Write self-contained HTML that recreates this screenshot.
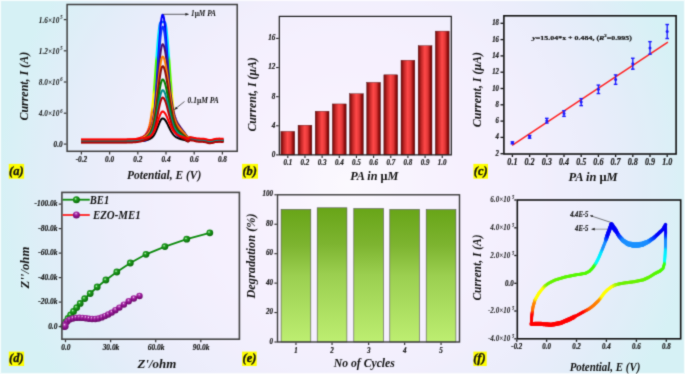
<!DOCTYPE html><html><head><meta charset="utf-8"><style>html,body{margin:0;padding:0;width:685px;height:374px;overflow:hidden;background:#eef;}svg{display:block;font-family:"Liberation Serif",serif;will-change:transform;}</style></head><body><svg width="685" height="374" viewBox="0 0 685 374" font-family="Liberation Serif" font-weight="bold" font-style="italic">
<defs>
<radialGradient id="bg" gradientUnits="userSpaceOnUse" cx="348" cy="184" r="349"><stop offset="0.000" stop-color="rgb(251, 249, 254)"/><stop offset="0.025" stop-color="rgb(251, 248, 254)"/><stop offset="0.050" stop-color="rgb(250, 247, 254)"/><stop offset="0.075" stop-color="rgb(250, 247, 254)"/><stop offset="0.100" stop-color="rgb(249, 246, 254)"/><stop offset="0.125" stop-color="rgb(249, 245, 254)"/><stop offset="0.150" stop-color="rgb(248, 244, 254)"/><stop offset="0.175" stop-color="rgb(248, 244, 254)"/><stop offset="0.200" stop-color="rgb(248, 243, 254)"/><stop offset="0.225" stop-color="rgb(247, 242, 254)"/><stop offset="0.250" stop-color="rgb(247, 242, 254)"/><stop offset="0.275" stop-color="rgb(247, 241, 254)"/><stop offset="0.300" stop-color="rgb(246, 241, 254)"/><stop offset="0.325" stop-color="rgb(246, 240, 254)"/><stop offset="0.350" stop-color="rgb(246, 240, 254)"/><stop offset="0.375" stop-color="rgb(246, 240, 254)"/><stop offset="0.400" stop-color="rgb(245, 240, 254)"/><stop offset="0.425" stop-color="rgb(245, 240, 254)"/><stop offset="0.450" stop-color="rgb(244, 240, 254)"/><stop offset="0.475" stop-color="rgb(244, 239, 253)"/><stop offset="0.500" stop-color="rgb(243, 239, 253)"/><stop offset="0.525" stop-color="rgb(242, 239, 253)"/><stop offset="0.550" stop-color="rgb(241, 239, 253)"/><stop offset="0.575" stop-color="rgb(241, 238, 252)"/><stop offset="0.600" stop-color="rgb(239, 238, 252)"/><stop offset="0.625" stop-color="rgb(238, 238, 252)"/><stop offset="0.650" stop-color="rgb(237, 238, 252)"/><stop offset="0.675" stop-color="rgb(236, 237, 251)"/><stop offset="0.700" stop-color="rgb(235, 237, 251)"/><stop offset="0.725" stop-color="rgb(233, 237, 250)"/><stop offset="0.750" stop-color="rgb(232, 237, 250)"/><stop offset="0.775" stop-color="rgb(230, 237, 250)"/><stop offset="0.800" stop-color="rgb(229, 237, 249)"/><stop offset="0.825" stop-color="rgb(227, 237, 249)"/><stop offset="0.850" stop-color="rgb(225, 237, 248)"/><stop offset="0.875" stop-color="rgb(224, 238, 248)"/><stop offset="0.900" stop-color="rgb(222, 238, 247)"/><stop offset="0.925" stop-color="rgb(220, 239, 247)"/><stop offset="0.950" stop-color="rgb(218, 240, 246)"/><stop offset="0.975" stop-color="rgb(216, 240, 246)"/><stop offset="1.000" stop-color="rgb(214, 241, 245)"/></radialGradient>
<linearGradient id="redbar" x1="0" y1="0" x2="1" y2="0">
<stop offset="0" stop-color="#6a0c0c"/>
<stop offset="0.08" stop-color="#8c1212"/>
<stop offset="0.25" stop-color="#c82a2a"/>
<stop offset="0.48" stop-color="#ff4848"/>
<stop offset="0.7" stop-color="#e03636"/>
<stop offset="0.9" stop-color="#8a0a0a"/>
<stop offset="1" stop-color="#6a0808"/>
</linearGradient>
<linearGradient id="greenbar" x1="0" y1="0" x2="0" y2="1">
<stop offset="0" stop-color="rgb(104,165,24)"/>
<stop offset="0.27" stop-color="rgb(125,180,48)"/>
<stop offset="0.5" stop-color="rgb(155,207,80)"/>
<stop offset="1" stop-color="rgb(189,238,113)"/>
</linearGradient>
<radialGradient id="gball" cx="0.38" cy="0.38" r="0.65">
<stop offset="0" stop-color="#d8f8d8"/>
<stop offset="0.28" stop-color="#20a020"/>
<stop offset="1" stop-color="#066606"/>
</radialGradient>
<radialGradient id="pball" cx="0.45" cy="0.3" r="0.7">
<stop offset="0" stop-color="#f8e0f8"/>
<stop offset="0.22" stop-color="#b040b0"/>
<stop offset="0.5" stop-color="#941494"/>
<stop offset="1" stop-color="#640a64"/>
</radialGradient>
<marker id="arr" viewBox="0 0 10 10" refX="9" refY="5" markerWidth="5" markerHeight="5" orient="auto-start-reverse">
<path d="M0,1 L10,5 L0,9 z" fill="#222"/>
</marker>
<filter id="soft" x="0" y="0" width="685" height="374" filterUnits="userSpaceOnUse" color-interpolation-filters="sRGB"><feConvolveMatrix order="3" kernelMatrix="0.025 0.1 0.025 0.1 0.5 0.1 0.025 0.1 0.025" edgeMode="duplicate" preserveAlpha="true"/></filter>
</defs>
<g filter="url(#soft)">
<rect x="0" y="0" width="685" height="374" fill="url(#bg)"/>
<rect x="0.5" y="0.5" width="684" height="373" fill="none" stroke="rgba(255,255,255,0.75)" stroke-width="1.2"/>
<linearGradient id="rainbow" gradientUnits="userSpaceOnUse" x1="0" y1="14" x2="0" y2="140"><stop offset="0" stop-color="#0000ff"/><stop offset="0.06" stop-color="#0060ff"/><stop offset="0.14" stop-color="#00e0ff"/><stop offset="0.33" stop-color="#00ffff"/><stop offset="0.37" stop-color="#40ff00"/><stop offset="0.6" stop-color="#80ff00"/><stop offset="0.64" stop-color="#ffff00"/><stop offset="0.74" stop-color="#ffff00"/><stop offset="0.78" stop-color="#ff9000"/><stop offset="0.88" stop-color="#ff6000"/><stop offset="0.94" stop-color="#ff1000"/><stop offset="1" stop-color="#ff0000"/></linearGradient>
<polyline points="81.0,140.00 81.5,140.00 82.0,140.00 82.5,140.00 83.0,140.00 83.5,140.00 84.0,140.00 84.5,140.00 85.0,140.00 85.5,140.00 86.0,140.00 86.5,140.00 87.0,140.00 87.5,140.00 88.0,140.00 88.5,140.00 89.0,140.00 89.5,140.00 90.0,140.00 90.5,140.00 91.0,140.00 91.5,140.00 92.0,140.00 92.5,140.00 93.0,140.00 93.5,140.00 94.0,140.00 94.5,140.00 95.0,140.00 95.5,140.00 96.0,140.00 96.5,140.00 97.0,140.00 97.5,140.00 98.0,140.00 98.5,140.00 99.0,140.00 99.5,140.00 100.0,140.00 100.5,140.00 101.0,140.00 101.5,140.00 102.0,140.00 102.5,140.00 103.0,140.00 103.5,140.00 104.0,140.00 104.5,140.00 105.0,140.00 105.5,140.00 106.0,140.00 106.5,140.00 107.0,140.00 107.5,140.00 108.0,140.00 108.5,140.00 109.0,140.00 109.5,140.00 110.0,140.00 110.5,140.00 111.0,140.00 111.5,140.00 112.0,140.00 112.5,140.00 113.0,140.00 113.5,140.00 114.0,140.00 114.5,140.00 115.0,140.00 115.5,140.00 116.0,140.00 116.5,140.00 117.0,140.00 117.5,140.00 118.0,139.99 118.5,139.99 119.0,139.99 119.5,139.99 120.0,139.99 120.5,139.99 121.0,139.98 121.5,139.98 122.0,139.98 122.5,139.97 123.0,139.97 123.5,139.96 124.0,139.96 124.5,139.95 125.0,139.94 125.5,139.93 126.0,139.92 126.5,139.91 127.0,139.90 127.5,139.88 128.0,139.87 128.5,139.85 129.0,139.82 129.5,139.80 130.0,139.77 130.5,139.74 131.0,139.71 131.5,139.67 132.0,139.63 132.5,139.58 133.0,139.53 133.5,139.47 134.0,139.41 134.5,139.34 135.0,139.26 135.5,139.18 136.0,139.09 136.5,138.99 137.0,138.89 137.5,138.77 138.0,138.65 138.5,138.51 139.0,138.37 139.5,138.21 140.0,138.05 140.5,137.87 141.0,137.67 141.5,137.47 142.0,137.24 142.5,137.00 143.0,136.73 143.5,136.43 144.0,136.10 144.5,135.72 145.0,135.30 145.5,134.81 146.0,134.24 146.5,133.58 147.0,132.79 147.5,131.86 148.0,130.75 148.5,129.43 149.0,127.86 149.5,126.01 150.0,123.83 150.5,121.29 151.0,118.33 151.5,114.94 152.0,111.09 152.5,106.75 153.0,101.93 153.5,96.64 154.0,90.90 154.5,84.78 155.0,78.34 155.5,71.68 156.0,64.90 156.5,58.14 157.0,51.55 157.5,45.27 158.0,39.46 158.5,34.28 159.0,29.87 159.5,26.34 160.0,23.82 160.5,22.36 161.0,22.00 161.5,22.00 162.0,22.00 162.5,22.00 163.0,22.00 163.5,22.00 164.0,22.00 164.5,22.00 165.0,22.54 165.5,24.15 166.0,26.78 166.5,30.36 167.0,34.78 167.5,39.92 168.0,45.65 168.5,51.83 169.0,58.30 169.5,64.93 170.0,71.57 170.5,78.11 171.0,84.43 171.5,90.46 172.0,96.12 172.5,101.35 173.0,106.14 173.5,110.46 174.0,114.31 174.5,117.72 175.0,120.70 175.5,123.28 176.0,125.50 176.5,127.39 177.0,129.00 177.5,130.36 178.0,131.51 178.5,132.48 179.0,133.30 179.5,134.00 180.0,134.59 180.5,135.10 181.0,135.54 181.5,135.93 182.0,136.27 182.5,136.58 183.0,136.86 183.5,137.11 184.0,137.34 184.5,137.56 185.0,137.75 185.5,138.07 186.0,138.37 186.5,138.67 187.0,138.95 187.5,139.22 188.0,139.48 188.5,139.16 189.0,138.83 189.5,138.49 190.0,138.15 190.5,138.18 191.0,138.21 191.5,138.23 192.0,138.24 192.5,138.25 193.0,138.25 193.5,138.38 194.0,138.51 194.5,138.63 195.0,138.75 195.5,138.86 196.0,138.97 196.5,139.08 197.0,139.18 197.5,139.20 198.0,139.22 198.5,139.24 199.0,139.26 199.5,139.27 200.0,139.28 200.5,139.29 201.0,139.30 201.5,139.31 202.0,139.32 202.5,139.32 203.0,139.33 203.5,139.41 204.0,139.50 204.5,139.58 205.0,139.66 205.5,139.75 206.0,139.83 206.5,139.96 207.0,140.10 207.5,140.23 208.0,140.37 208.5,140.50 209.0,140.64 209.5,140.61 210.0,140.58 210.5,140.56 211.0,140.53 211.5,140.50 212.0,140.48 212.5,140.32 213.0,140.16 213.5,140.00 214.0,139.84 214.5,139.68 215.0,139.52 215.5,139.48 216.0,139.44 216.5,139.40 217.0,139.36 217.5,139.32 218.0,139.28 218.5,139.24 219.0,139.20 219.5,139.22 220.0,139.24 220.5,139.25 221.0,139.27 221.5,139.29 222.0,139.31 222.5,139.32 223.0,139.34 223.5,139.36" fill="none" stroke="url(#rainbow)" stroke-width="2.4" stroke-linejoin="round"/>
<polyline points="81.0,140.60 81.5,140.60 82.0,140.60 82.5,140.60 83.0,140.60 83.5,140.60 84.0,140.60 84.5,140.60 85.0,140.60 85.5,140.60 86.0,140.60 86.5,140.60 87.0,140.60 87.5,140.60 88.0,140.60 88.5,140.60 89.0,140.60 89.5,140.60 90.0,140.60 90.5,140.60 91.0,140.60 91.5,140.60 92.0,140.60 92.5,140.60 93.0,140.60 93.5,140.60 94.0,140.60 94.5,140.60 95.0,140.60 95.5,140.60 96.0,140.60 96.5,140.60 97.0,140.60 97.5,140.60 98.0,140.60 98.5,140.60 99.0,140.60 99.5,140.60 100.0,140.60 100.5,140.60 101.0,140.60 101.5,140.60 102.0,140.60 102.5,140.60 103.0,140.60 103.5,140.60 104.0,140.60 104.5,140.60 105.0,140.60 105.5,140.60 106.0,140.60 106.5,140.60 107.0,140.60 107.5,140.60 108.0,140.60 108.5,140.60 109.0,140.60 109.5,140.60 110.0,140.60 110.5,140.60 111.0,140.60 111.5,140.60 112.0,140.60 112.5,140.60 113.0,140.60 113.5,140.60 114.0,140.60 114.5,140.60 115.0,140.60 115.5,140.60 116.0,140.60 116.5,140.60 117.0,140.60 117.5,140.60 118.0,140.60 118.5,140.60 119.0,140.60 119.5,140.60 120.0,140.60 120.5,140.60 121.0,140.60 121.5,140.60 122.0,140.60 122.5,140.60 123.0,140.60 123.5,140.60 124.0,140.60 124.5,140.60 125.0,140.60 125.5,140.60 126.0,140.60 126.5,140.60 127.0,140.60 127.5,140.60 128.0,140.60 128.5,140.60 129.0,140.60 129.5,140.60 130.0,140.60 130.5,140.60 131.0,140.60 131.5,140.60 132.0,140.60 132.5,140.60 133.0,140.60 133.5,140.60 134.0,140.60 134.5,140.60 135.0,140.60 135.5,140.60 136.0,140.60 136.5,140.60 137.0,140.60 137.5,140.60 138.0,140.60 138.5,140.60 139.0,140.60 139.5,140.60 140.0,140.60 140.5,140.60 141.0,140.59 141.5,140.59 142.0,140.58 142.5,140.57 143.0,140.56 143.5,140.54 144.0,140.51 144.5,140.47 145.0,140.42 145.5,140.33 146.0,140.22 146.5,140.07 147.0,139.86 147.5,139.58 148.0,139.20 148.5,138.71 149.0,138.07 149.5,137.26 150.0,136.22 150.5,134.93 151.0,133.32 151.5,131.36 152.0,129.00 152.5,126.18 153.0,122.86 153.5,119.00 154.0,114.57 154.5,109.56 155.0,103.97 155.5,97.83 156.0,91.16 156.5,84.06 157.0,76.60 157.5,68.91 158.0,61.12 158.5,53.40 159.0,45.92 159.5,38.87 160.0,32.42 160.5,26.76 161.0,22.04 161.5,18.40 162.0,15.95 162.5,14.76 163.0,14.86 163.5,16.14 164.0,18.56 164.5,22.06 165.0,26.52 165.5,31.84 166.0,37.88 166.5,44.47 167.0,51.46 167.5,58.70 168.0,66.03 168.5,73.30 169.0,80.39 169.5,87.18 170.0,93.60 170.5,99.56 171.0,105.02 171.5,109.95 172.0,114.34 172.5,118.20 173.0,121.54 173.5,124.40 174.0,126.81 174.5,128.82 175.0,130.47 175.5,131.81 176.0,132.89 176.5,133.74 177.0,134.42 177.5,134.95 178.0,135.37 178.5,135.71 179.0,135.99 179.5,136.23 180.0,136.44 180.5,136.64 181.0,136.84 181.5,137.03 182.0,137.23 182.5,137.44 183.0,137.65 183.5,137.86 184.0,138.08 184.5,138.29 185.0,138.51 185.5,138.85 186.0,139.18 186.5,139.51 187.0,139.82 187.5,140.12 188.0,140.41 188.5,140.11 189.0,139.80 189.5,139.47 190.0,139.13 190.5,139.16 191.0,139.18 191.5,139.19 192.0,139.20 192.5,139.19 193.0,139.17 193.5,139.28 194.0,139.39 194.5,139.49 195.0,139.59 195.5,139.68 196.0,139.77 196.5,139.86 197.0,139.94 197.5,139.95 198.0,139.95 198.5,139.95 199.0,139.95 199.5,139.96 200.0,139.96 200.5,139.96 201.0,139.96 201.5,139.96 202.0,139.96 202.5,139.96 203.0,139.96 203.5,140.04 204.0,140.12 204.5,140.20 205.0,140.28 205.5,140.36 206.0,140.44 206.5,140.57 207.0,140.71 207.5,140.84 208.0,140.97 208.5,141.11 209.0,141.24 209.5,141.21 210.0,141.19 210.5,141.16 211.0,141.13 211.5,141.11 212.0,141.08 212.5,140.92 213.0,140.76 213.5,140.60 214.0,140.44 214.5,140.28 215.0,140.12 215.5,140.08 216.0,140.04 216.5,140.00 217.0,139.96 217.5,139.92 218.0,139.88 218.5,139.84 219.0,139.80 219.5,139.82 220.0,139.84 220.5,139.85 221.0,139.87 221.5,139.89 222.0,139.91 222.5,139.92 223.0,139.94 223.5,139.96" fill="none" stroke="#0000ff" stroke-width="2" stroke-linejoin="round"/>
<polyline points="81.0,140.70 81.5,140.70 82.0,140.70 82.5,140.70 83.0,140.70 83.5,140.70 84.0,140.70 84.5,140.70 85.0,140.70 85.5,140.70 86.0,140.70 86.5,140.70 87.0,140.70 87.5,140.70 88.0,140.70 88.5,140.70 89.0,140.70 89.5,140.70 90.0,140.70 90.5,140.70 91.0,140.70 91.5,140.70 92.0,140.70 92.5,140.70 93.0,140.70 93.5,140.70 94.0,140.70 94.5,140.70 95.0,140.70 95.5,140.70 96.0,140.70 96.5,140.70 97.0,140.70 97.5,140.70 98.0,140.70 98.5,140.70 99.0,140.70 99.5,140.70 100.0,140.70 100.5,140.70 101.0,140.70 101.5,140.70 102.0,140.70 102.5,140.70 103.0,140.70 103.5,140.70 104.0,140.70 104.5,140.70 105.0,140.70 105.5,140.70 106.0,140.70 106.5,140.70 107.0,140.70 107.5,140.70 108.0,140.70 108.5,140.70 109.0,140.70 109.5,140.70 110.0,140.70 110.5,140.70 111.0,140.70 111.5,140.70 112.0,140.70 112.5,140.70 113.0,140.70 113.5,140.70 114.0,140.70 114.5,140.70 115.0,140.70 115.5,140.70 116.0,140.70 116.5,140.70 117.0,140.70 117.5,140.70 118.0,140.70 118.5,140.70 119.0,140.70 119.5,140.70 120.0,140.70 120.5,140.70 121.0,140.70 121.5,140.70 122.0,140.70 122.5,140.70 123.0,140.70 123.5,140.70 124.0,140.70 124.5,140.70 125.0,140.70 125.5,140.70 126.0,140.70 126.5,140.70 127.0,140.70 127.5,140.70 128.0,140.70 128.5,140.70 129.0,140.70 129.5,140.70 130.0,140.70 130.5,140.70 131.0,140.70 131.5,140.70 132.0,140.70 132.5,140.70 133.0,140.70 133.5,140.70 134.0,140.70 134.5,140.70 135.0,140.70 135.5,140.70 136.0,140.70 136.5,140.70 137.0,140.70 137.5,140.70 138.0,140.70 138.5,140.70 139.0,140.70 139.5,140.70 140.0,140.70 140.5,140.70 141.0,140.69 141.5,140.69 142.0,140.68 142.5,140.68 143.0,140.66 143.5,140.65 144.0,140.62 144.5,140.58 145.0,140.53 145.5,140.46 146.0,140.36 146.5,140.22 147.0,140.03 147.5,139.77 148.0,139.43 148.5,138.99 149.0,138.41 149.5,137.67 150.0,136.74 150.5,135.56 151.0,134.11 151.5,132.34 152.0,130.19 152.5,127.64 153.0,124.63 153.5,121.14 154.0,117.13 154.5,112.59 155.0,107.53 155.5,101.97 156.0,95.94 156.5,89.50 157.0,82.75 157.5,75.78 158.0,68.73 158.5,61.74 159.0,54.97 159.5,48.59 160.0,42.75 160.5,37.62 161.0,33.34 161.5,30.05 162.0,27.83 162.5,26.76 163.0,26.84 163.5,28.01 164.0,30.20 164.5,33.36 165.0,37.41 165.5,42.22 166.0,47.69 166.5,53.66 167.0,59.99 167.5,66.54 168.0,73.18 168.5,79.76 169.0,86.18 169.5,92.33 170.0,98.14 170.5,103.54 171.0,108.48 171.5,112.95 172.0,116.92 172.5,120.42 173.0,123.45 173.5,126.03 174.0,128.22 174.5,130.04 175.0,131.53 175.5,132.74 176.0,133.72 176.5,134.49 177.0,135.10 177.5,135.58 178.0,135.97 178.5,136.27 179.0,136.53 179.5,136.74 180.0,136.94 180.5,137.12 181.0,137.29 181.5,137.47 182.0,137.65 182.5,137.84 183.0,138.03 183.5,138.22 184.0,138.42 184.5,138.61 185.0,138.80 185.5,139.13 186.0,139.44 186.5,139.75 187.0,140.04 187.5,140.33 188.0,140.60 188.5,140.29 189.0,139.96 189.5,139.63 190.0,139.28 190.5,139.30 191.0,139.32 191.5,139.32 192.0,139.32 192.5,139.31 193.0,139.29 193.5,139.39 194.0,139.50 194.5,139.60 195.0,139.69 195.5,139.78 196.0,139.87 196.5,139.96 197.0,140.04 197.5,140.05 198.0,140.05 198.5,140.05 199.0,140.06 199.5,140.06 200.0,140.06 200.5,140.06 201.0,140.06 201.5,140.06 202.0,140.06 202.5,140.06 203.0,140.06 203.5,140.14 204.0,140.22 204.5,140.30 205.0,140.38 205.5,140.46 206.0,140.54 206.5,140.67 207.0,140.81 207.5,140.94 208.0,141.07 208.5,141.21 209.0,141.34 209.5,141.31 210.0,141.29 210.5,141.26 211.0,141.23 211.5,141.21 212.0,141.18 212.5,141.02 213.0,140.86 213.5,140.70 214.0,140.54 214.5,140.38 215.0,140.22 215.5,140.18 216.0,140.14 216.5,140.10 217.0,140.06 217.5,140.02 218.0,139.98 218.5,139.94 219.0,139.90 219.5,139.92 220.0,139.94 220.5,139.95 221.0,139.97 221.5,139.99 222.0,140.01 222.5,140.02 223.0,140.04 223.5,140.06" fill="none" stroke="#0a32ff" stroke-width="2" stroke-linejoin="round"/>
<polyline points="81.0,141.60 81.5,141.60 82.0,141.60 82.5,141.60 83.0,141.60 83.5,141.60 84.0,141.60 84.5,141.60 85.0,141.60 85.5,141.60 86.0,141.60 86.5,141.60 87.0,141.60 87.5,141.60 88.0,141.60 88.5,141.60 89.0,141.60 89.5,141.60 90.0,141.60 90.5,141.60 91.0,141.60 91.5,141.60 92.0,141.60 92.5,141.60 93.0,141.60 93.5,141.60 94.0,141.60 94.5,141.60 95.0,141.60 95.5,141.60 96.0,141.60 96.5,141.60 97.0,141.60 97.5,141.60 98.0,141.60 98.5,141.60 99.0,141.60 99.5,141.60 100.0,141.60 100.5,141.60 101.0,141.60 101.5,141.60 102.0,141.60 102.5,141.60 103.0,141.60 103.5,141.60 104.0,141.60 104.5,141.60 105.0,141.60 105.5,141.60 106.0,141.60 106.5,141.60 107.0,141.60 107.5,141.60 108.0,141.60 108.5,141.60 109.0,141.60 109.5,141.60 110.0,141.60 110.5,141.60 111.0,141.60 111.5,141.60 112.0,141.60 112.5,141.60 113.0,141.60 113.5,141.60 114.0,141.60 114.5,141.60 115.0,141.60 115.5,141.60 116.0,141.60 116.5,141.60 117.0,141.60 117.5,141.60 118.0,141.60 118.5,141.60 119.0,141.60 119.5,141.60 120.0,141.60 120.5,141.60 121.0,141.60 121.5,141.60 122.0,141.60 122.5,141.59 123.0,141.59 123.5,141.59 124.0,141.59 124.5,141.59 125.0,141.59 125.5,141.58 126.0,141.58 126.5,141.58 127.0,141.58 127.5,141.57 128.0,141.57 128.5,141.56 129.0,141.56 129.5,141.55 130.0,141.54 130.5,141.54 131.0,141.53 131.5,141.52 132.0,141.51 132.5,141.49 133.0,141.48 133.5,141.46 134.0,141.45 134.5,141.43 135.0,141.41 135.5,141.38 136.0,141.36 136.5,141.33 137.0,141.30 137.5,141.26 138.0,141.23 138.5,141.19 139.0,141.14 139.5,141.10 140.0,141.05 140.5,140.99 141.0,140.94 141.5,140.88 142.0,140.81 142.5,140.74 143.0,140.66 143.5,140.59 144.0,140.50 144.5,140.41 145.0,140.32 145.5,140.22 146.0,140.11 146.5,139.99 147.0,139.87 147.5,139.73 148.0,139.59 148.5,139.43 149.0,139.24 149.5,139.04 150.0,138.81 150.5,138.54 151.0,138.23 151.5,137.88 152.0,137.47 152.5,136.99 153.0,136.45 153.5,135.82 154.0,135.10 154.5,134.30 155.0,133.40 155.5,132.40 156.0,131.32 156.5,130.16 157.0,128.93 157.5,127.65 158.0,126.35 158.5,125.05 159.0,123.78 159.5,122.58 160.0,121.47 160.5,120.50 161.0,119.68 161.5,119.05 162.0,118.62 162.5,118.41 163.0,118.42 163.5,118.58 164.0,118.89 164.5,119.33 165.0,119.90 165.5,120.58 166.0,121.37 166.5,122.24 167.0,123.17 167.5,124.16 168.0,125.18 168.5,126.22 169.0,127.26 169.5,128.28 170.0,129.27 170.5,130.23 171.0,131.14 171.5,132.00 172.0,132.80 172.5,133.54 173.0,134.22 173.5,134.84 174.0,135.39 174.5,135.89 175.0,136.34 175.5,136.74 176.0,137.09 176.5,137.41 177.0,137.69 177.5,137.94 178.0,138.16 178.5,138.37 179.0,138.55 179.5,138.72 180.0,138.88 180.5,139.03 181.0,139.17 181.5,139.31 182.0,139.43 182.5,139.56 183.0,139.68 183.5,139.79 184.0,139.90 184.5,140.01 185.0,140.12 185.5,140.35 186.0,140.58 186.5,140.80 187.0,141.02 187.5,141.24 188.0,141.45 188.5,141.08 189.0,140.71 189.5,140.33 190.0,139.95 190.5,139.95 191.0,139.95 191.5,139.95 192.0,139.94 192.5,139.92 193.0,139.91 193.5,140.02 194.0,140.14 194.5,140.24 195.0,140.35 195.5,140.46 196.0,140.56 196.5,140.66 197.0,140.76 197.5,140.78 198.0,140.80 198.5,140.81 199.0,140.82 199.5,140.84 200.0,140.85 200.5,140.86 201.0,140.87 201.5,140.88 202.0,140.89 202.5,140.89 203.0,140.90 203.5,140.99 204.0,141.07 204.5,141.16 205.0,141.24 205.5,141.33 206.0,141.41 206.5,141.55 207.0,141.68 207.5,141.82 208.0,141.95 208.5,142.09 209.0,142.23 209.5,142.20 210.0,142.18 210.5,142.15 211.0,142.12 211.5,142.10 212.0,142.07 212.5,141.91 213.0,141.75 213.5,141.60 214.0,141.44 214.5,141.28 215.0,141.12 215.5,141.08 216.0,141.04 216.5,141.00 217.0,140.96 217.5,140.92 218.0,140.88 218.5,140.84 219.0,140.80 219.5,140.82 220.0,140.83 220.5,140.85 221.0,140.87 221.5,140.89 222.0,140.91 222.5,140.92 223.0,140.94 223.5,140.96" fill="none" stroke="#000000" stroke-width="2" stroke-linejoin="round"/>
<polyline points="81.0,141.30 81.5,141.30 82.0,141.30 82.5,141.30 83.0,141.30 83.5,141.30 84.0,141.30 84.5,141.30 85.0,141.30 85.5,141.30 86.0,141.30 86.5,141.30 87.0,141.30 87.5,141.30 88.0,141.30 88.5,141.30 89.0,141.30 89.5,141.30 90.0,141.30 90.5,141.30 91.0,141.30 91.5,141.30 92.0,141.30 92.5,141.30 93.0,141.30 93.5,141.30 94.0,141.30 94.5,141.30 95.0,141.30 95.5,141.30 96.0,141.30 96.5,141.30 97.0,141.30 97.5,141.30 98.0,141.30 98.5,141.30 99.0,141.30 99.5,141.30 100.0,141.30 100.5,141.30 101.0,141.30 101.5,141.30 102.0,141.30 102.5,141.30 103.0,141.30 103.5,141.30 104.0,141.30 104.5,141.30 105.0,141.30 105.5,141.30 106.0,141.30 106.5,141.30 107.0,141.30 107.5,141.30 108.0,141.30 108.5,141.30 109.0,141.30 109.5,141.30 110.0,141.30 110.5,141.30 111.0,141.30 111.5,141.30 112.0,141.30 112.5,141.30 113.0,141.30 113.5,141.30 114.0,141.30 114.5,141.30 115.0,141.30 115.5,141.30 116.0,141.30 116.5,141.30 117.0,141.30 117.5,141.30 118.0,141.29 118.5,141.29 119.0,141.29 119.5,141.29 120.0,141.29 120.5,141.29 121.0,141.29 121.5,141.28 122.0,141.28 122.5,141.28 123.0,141.27 123.5,141.27 124.0,141.26 124.5,141.25 125.0,141.25 125.5,141.24 126.0,141.23 126.5,141.21 127.0,141.20 127.5,141.18 128.0,141.17 128.5,141.15 129.0,141.12 129.5,141.10 130.0,141.07 130.5,141.03 131.0,140.99 131.5,140.95 132.0,140.91 132.5,140.85 133.0,140.79 133.5,140.73 134.0,140.65 134.5,140.57 135.0,140.49 135.5,140.39 136.0,140.28 136.5,140.16 137.0,140.03 137.5,139.89 138.0,139.74 138.5,139.57 139.0,139.40 139.5,139.20 140.0,138.99 140.5,138.77 141.0,138.53 141.5,138.27 142.0,137.99 142.5,137.70 143.0,137.39 143.5,137.06 144.0,136.71 144.5,136.33 145.0,135.94 145.5,135.52 146.0,135.07 146.5,134.58 147.0,134.07 147.5,133.50 148.0,132.89 148.5,132.21 149.0,131.45 149.5,130.59 150.0,129.62 150.5,128.51 151.0,127.23 151.5,125.74 152.0,124.03 152.5,122.04 153.0,119.75 153.5,117.12 154.0,114.13 154.5,110.76 155.0,107.00 155.5,102.84 156.0,98.32 156.5,93.46 157.0,88.32 157.5,82.99 158.0,77.55 158.5,72.11 159.0,66.81 159.5,61.77 160.0,57.14 160.5,53.05 161.0,49.63 161.5,46.98 162.0,45.19 162.5,44.32 163.0,44.33 163.5,44.99 164.0,46.25 164.5,48.07 165.0,50.42 165.5,53.25 166.0,56.49 166.5,60.08 167.0,63.94 167.5,68.00 168.0,72.19 168.5,76.44 169.0,80.67 169.5,84.84 170.0,88.88 170.5,92.74 171.0,96.41 171.5,99.83 172.0,103.01 172.5,105.92 173.0,108.57 173.5,110.96 174.0,113.10 174.5,115.01 175.0,116.70 175.5,118.20 176.0,119.52 176.5,120.70 177.0,121.76 177.5,122.71 178.0,123.59 178.5,124.39 179.0,125.16 179.5,125.89 180.0,126.59 180.5,127.28 181.0,127.97 181.5,128.65 182.0,129.32 182.5,129.99 183.0,130.66 183.5,131.32 184.0,131.97 184.5,132.60 185.0,133.22 185.5,133.96 186.0,134.66 186.5,135.35 187.0,136.00 187.5,136.63 188.0,137.22 188.5,137.21 189.0,137.17 189.5,137.10 190.0,137.00 190.5,137.26 191.0,137.48 191.5,137.69 192.0,137.87 192.5,138.03 193.0,138.17 193.5,138.42 194.0,138.66 194.5,138.88 195.0,139.09 195.5,139.28 196.0,139.47 196.5,139.65 197.0,139.81 197.5,139.89 198.0,139.96 198.5,140.03 199.0,140.09 199.5,140.15 200.0,140.20 200.5,140.24 201.0,140.28 201.5,140.32 202.0,140.35 202.5,140.38 203.0,140.41 203.5,140.52 204.0,140.62 204.5,140.72 205.0,140.82 205.5,140.92 206.0,141.01 206.5,141.16 207.0,141.31 207.5,141.45 208.0,141.60 208.5,141.74 209.0,141.88 209.5,141.86 210.0,141.84 210.5,141.82 211.0,141.80 211.5,141.77 212.0,141.75 212.5,141.60 213.0,141.44 213.5,141.28 214.0,141.12 214.5,140.97 215.0,140.81 215.5,140.77 216.0,140.73 216.5,140.69 217.0,140.65 217.5,140.61 218.0,140.57 218.5,140.54 219.0,140.50 219.5,140.51 220.0,140.53 220.5,140.55 221.0,140.57 221.5,140.59 222.0,140.61 222.5,140.62 223.0,140.64 223.5,140.66" fill="none" stroke="#4b0b6e" stroke-width="2" stroke-linejoin="round"/>
<polyline points="81.0,141.00 81.5,141.00 82.0,141.00 82.5,141.00 83.0,141.00 83.5,141.00 84.0,141.00 84.5,141.00 85.0,141.00 85.5,141.00 86.0,141.00 86.5,141.00 87.0,141.00 87.5,141.00 88.0,141.00 88.5,141.00 89.0,141.00 89.5,141.00 90.0,141.00 90.5,141.00 91.0,141.00 91.5,141.00 92.0,141.00 92.5,141.00 93.0,141.00 93.5,141.00 94.0,141.00 94.5,141.00 95.0,141.00 95.5,141.00 96.0,141.00 96.5,141.00 97.0,141.00 97.5,141.00 98.0,141.00 98.5,141.00 99.0,141.00 99.5,141.00 100.0,141.00 100.5,141.00 101.0,141.00 101.5,141.00 102.0,141.00 102.5,141.00 103.0,141.00 103.5,141.00 104.0,141.00 104.5,141.00 105.0,141.00 105.5,141.00 106.0,141.00 106.5,141.00 107.0,141.00 107.5,141.00 108.0,141.00 108.5,141.00 109.0,141.00 109.5,141.00 110.0,141.00 110.5,141.00 111.0,141.00 111.5,141.00 112.0,141.00 112.5,141.00 113.0,141.00 113.5,141.00 114.0,141.00 114.5,141.00 115.0,141.00 115.5,141.00 116.0,141.00 116.5,141.00 117.0,141.00 117.5,141.00 118.0,141.00 118.5,140.99 119.0,140.99 119.5,140.99 120.0,140.99 120.5,140.99 121.0,140.99 121.5,140.98 122.0,140.98 122.5,140.98 123.0,140.97 123.5,140.97 124.0,140.97 124.5,140.96 125.0,140.95 125.5,140.94 126.0,140.94 126.5,140.92 127.0,140.91 127.5,140.90 128.0,140.88 128.5,140.87 129.0,140.85 129.5,140.82 130.0,140.80 130.5,140.77 131.0,140.73 131.5,140.70 132.0,140.66 132.5,140.61 133.0,140.56 133.5,140.50 134.0,140.44 134.5,140.37 135.0,140.29 135.5,140.21 136.0,140.11 136.5,140.01 137.0,139.90 137.5,139.78 138.0,139.64 138.5,139.50 139.0,139.34 139.5,139.17 140.0,138.99 140.5,138.80 141.0,138.59 141.5,138.36 142.0,138.12 142.5,137.87 143.0,137.60 143.5,137.31 144.0,137.00 144.5,136.68 145.0,136.33 145.5,135.97 146.0,135.58 146.5,135.16 147.0,134.70 147.5,134.22 148.0,133.68 148.5,133.09 149.0,132.43 149.5,131.68 150.0,130.84 150.5,129.87 151.0,128.75 151.5,127.46 152.0,125.97 152.5,124.24 153.0,122.25 153.5,119.96 154.0,117.36 154.5,114.43 155.0,111.15 155.5,107.54 156.0,103.60 156.5,99.37 157.0,94.91 157.5,90.26 158.0,85.53 158.5,80.80 159.0,76.18 159.5,71.80 160.0,67.77 160.5,64.22 161.0,61.24 161.5,58.93 162.0,57.38 162.5,56.62 163.0,56.64 163.5,57.21 164.0,58.31 164.5,59.90 165.0,61.94 165.5,64.41 166.0,67.23 166.5,70.36 167.0,73.73 167.5,77.27 168.0,80.93 168.5,84.63 169.0,88.33 169.5,91.97 170.0,95.50 170.5,98.88 171.0,102.08 171.5,105.09 172.0,107.87 172.5,110.43 173.0,112.76 173.5,114.86 174.0,116.74 174.5,118.42 175.0,119.92 175.5,121.24 176.0,122.41 176.5,123.46 177.0,124.39 177.5,125.23 178.0,126.00 178.5,126.71 179.0,127.38 179.5,128.01 180.0,128.62 180.5,129.21 181.0,129.79 181.5,130.37 182.0,130.94 182.5,131.50 183.0,132.06 183.5,132.62 184.0,133.16 184.5,133.69 185.0,134.20 185.5,134.84 186.0,135.45 186.5,136.04 187.0,136.61 187.5,137.15 188.0,137.67 188.5,137.59 189.0,137.48 189.5,137.35 190.0,137.19 190.5,137.40 191.0,137.58 191.5,137.74 192.0,137.89 192.5,138.01 193.0,138.12 193.5,138.35 194.0,138.56 194.5,138.77 195.0,138.96 195.5,139.14 196.0,139.31 196.5,139.47 197.0,139.63 197.5,139.69 198.0,139.76 198.5,139.81 199.0,139.87 199.5,139.91 200.0,139.96 200.5,140.00 201.0,140.03 201.5,140.06 202.0,140.09 202.5,140.12 203.0,140.14 203.5,140.25 204.0,140.35 204.5,140.45 205.0,140.54 205.5,140.64 206.0,140.73 206.5,140.88 207.0,141.02 207.5,141.16 208.0,141.31 208.5,141.45 209.0,141.59 209.5,141.57 210.0,141.55 210.5,141.52 211.0,141.50 211.5,141.48 212.0,141.46 212.5,141.30 213.0,141.14 213.5,140.98 214.0,140.83 214.5,140.67 215.0,140.51 215.5,140.47 216.0,140.43 216.5,140.39 217.0,140.35 217.5,140.31 218.0,140.28 218.5,140.24 219.0,140.20 219.5,140.21 220.0,140.23 220.5,140.25 221.0,140.27 221.5,140.29 222.0,140.31 222.5,140.32 223.0,140.34 223.5,140.36" fill="none" stroke="#ff8000" stroke-width="2" stroke-linejoin="round"/>
<polyline points="81.0,142.20 81.5,142.20 82.0,142.20 82.5,142.20 83.0,142.20 83.5,142.20 84.0,142.20 84.5,142.20 85.0,142.20 85.5,142.20 86.0,142.20 86.5,142.20 87.0,142.20 87.5,142.20 88.0,142.20 88.5,142.20 89.0,142.20 89.5,142.20 90.0,142.20 90.5,142.20 91.0,142.20 91.5,142.20 92.0,142.20 92.5,142.20 93.0,142.20 93.5,142.20 94.0,142.20 94.5,142.20 95.0,142.20 95.5,142.20 96.0,142.20 96.5,142.20 97.0,142.20 97.5,142.20 98.0,142.20 98.5,142.20 99.0,142.20 99.5,142.20 100.0,142.20 100.5,142.20 101.0,142.20 101.5,142.20 102.0,142.20 102.5,142.20 103.0,142.20 103.5,142.20 104.0,142.20 104.5,142.20 105.0,142.20 105.5,142.20 106.0,142.20 106.5,142.20 107.0,142.20 107.5,142.20 108.0,142.20 108.5,142.20 109.0,142.20 109.5,142.20 110.0,142.20 110.5,142.20 111.0,142.20 111.5,142.20 112.0,142.20 112.5,142.20 113.0,142.20 113.5,142.20 114.0,142.20 114.5,142.20 115.0,142.20 115.5,142.20 116.0,142.20 116.5,142.20 117.0,142.20 117.5,142.20 118.0,142.20 118.5,142.20 119.0,142.19 119.5,142.19 120.0,142.19 120.5,142.19 121.0,142.19 121.5,142.19 122.0,142.18 122.5,142.18 123.0,142.18 123.5,142.17 124.0,142.17 124.5,142.16 125.0,142.16 125.5,142.15 126.0,142.14 126.5,142.13 127.0,142.12 127.5,142.11 128.0,142.10 128.5,142.08 129.0,142.06 129.5,142.04 130.0,142.02 130.5,141.99 131.0,141.96 131.5,141.93 132.0,141.89 132.5,141.85 133.0,141.80 133.5,141.75 134.0,141.69 134.5,141.63 135.0,141.56 135.5,141.49 136.0,141.40 136.5,141.31 137.0,141.21 137.5,141.10 138.0,140.98 138.5,140.85 139.0,140.71 139.5,140.56 140.0,140.39 140.5,140.22 141.0,140.03 141.5,139.83 142.0,139.61 142.5,139.38 143.0,139.14 143.5,138.88 144.0,138.60 144.5,138.31 145.0,138.00 145.5,137.67 146.0,137.32 146.5,136.94 147.0,136.53 147.5,136.09 148.0,135.61 148.5,135.08 149.0,134.48 149.5,133.81 150.0,133.05 150.5,132.18 151.0,131.17 151.5,130.01 152.0,128.67 152.5,127.11 153.0,125.31 153.5,123.26 154.0,120.92 154.5,118.27 155.0,115.32 155.5,112.07 156.0,108.52 156.5,104.72 157.0,100.69 157.5,96.51 158.0,92.25 158.5,87.99 159.0,83.84 159.5,79.89 160.0,76.26 160.5,73.06 161.0,70.38 161.5,68.30 162.0,66.90 162.5,66.22 163.0,66.24 163.5,66.76 164.0,67.74 164.5,69.18 165.0,71.03 165.5,73.25 166.0,75.80 166.5,78.62 167.0,81.66 167.5,84.86 168.0,88.16 168.5,91.50 169.0,94.85 169.5,98.13 170.0,101.33 170.5,104.39 171.0,107.29 171.5,110.01 172.0,112.54 172.5,114.86 173.0,116.98 173.5,118.89 174.0,120.61 174.5,122.14 175.0,123.51 175.5,124.72 176.0,125.79 176.5,126.75 177.0,127.60 177.5,128.37 178.0,129.07 178.5,129.71 179.0,130.31 179.5,130.88 180.0,131.42 180.5,131.95 181.0,132.47 181.5,132.97 182.0,133.47 182.5,133.96 183.0,134.44 183.5,134.92 184.0,135.39 184.5,135.85 185.0,136.29 185.5,136.85 186.0,137.40 186.5,137.92 187.0,138.43 187.5,138.92 188.0,139.38 188.5,139.25 189.0,139.09 189.5,138.92 190.0,138.73 190.5,138.90 191.0,139.05 191.5,139.19 192.0,139.30 192.5,139.41 193.0,139.50 193.5,139.71 194.0,139.90 194.5,140.09 195.0,140.27 195.5,140.44 196.0,140.60 196.5,140.75 197.0,140.90 197.5,140.96 198.0,141.02 198.5,141.07 199.0,141.11 199.5,141.16 200.0,141.20 200.5,141.23 201.0,141.26 201.5,141.29 202.0,141.32 202.5,141.34 203.0,141.37 203.5,141.47 204.0,141.56 204.5,141.66 205.0,141.76 205.5,141.85 206.0,141.94 206.5,142.09 207.0,142.23 207.5,142.37 208.0,142.51 208.5,142.65 209.0,142.79 209.5,142.77 210.0,142.75 210.5,142.73 211.0,142.70 211.5,142.68 212.0,142.66 212.5,142.50 213.0,142.34 213.5,142.19 214.0,142.03 214.5,141.87 215.0,141.71 215.5,141.67 216.0,141.63 216.5,141.59 217.0,141.55 217.5,141.52 218.0,141.48 218.5,141.44 219.0,141.40 219.5,141.42 220.0,141.43 220.5,141.45 221.0,141.47 221.5,141.49 222.0,141.51 222.5,141.52 223.0,141.54 223.5,141.56" fill="none" stroke="#8b0a0a" stroke-width="2" stroke-linejoin="round"/>
<polyline points="81.0,141.40 81.5,141.40 82.0,141.40 82.5,141.40 83.0,141.40 83.5,141.40 84.0,141.40 84.5,141.40 85.0,141.40 85.5,141.40 86.0,141.40 86.5,141.40 87.0,141.40 87.5,141.40 88.0,141.40 88.5,141.40 89.0,141.40 89.5,141.40 90.0,141.40 90.5,141.40 91.0,141.40 91.5,141.40 92.0,141.40 92.5,141.40 93.0,141.40 93.5,141.40 94.0,141.40 94.5,141.40 95.0,141.40 95.5,141.40 96.0,141.40 96.5,141.40 97.0,141.40 97.5,141.40 98.0,141.40 98.5,141.40 99.0,141.40 99.5,141.40 100.0,141.40 100.5,141.40 101.0,141.40 101.5,141.40 102.0,141.40 102.5,141.40 103.0,141.40 103.5,141.40 104.0,141.40 104.5,141.40 105.0,141.40 105.5,141.40 106.0,141.40 106.5,141.40 107.0,141.40 107.5,141.40 108.0,141.40 108.5,141.40 109.0,141.40 109.5,141.40 110.0,141.40 110.5,141.40 111.0,141.40 111.5,141.40 112.0,141.40 112.5,141.40 113.0,141.40 113.5,141.40 114.0,141.40 114.5,141.40 115.0,141.40 115.5,141.40 116.0,141.40 116.5,141.40 117.0,141.40 117.5,141.40 118.0,141.40 118.5,141.40 119.0,141.40 119.5,141.39 120.0,141.39 120.5,141.39 121.0,141.39 121.5,141.39 122.0,141.39 122.5,141.38 123.0,141.38 123.5,141.38 124.0,141.37 124.5,141.37 125.0,141.37 125.5,141.36 126.0,141.35 126.5,141.34 127.0,141.34 127.5,141.33 128.0,141.31 128.5,141.30 129.0,141.29 129.5,141.27 130.0,141.25 130.5,141.23 131.0,141.21 131.5,141.18 132.0,141.15 132.5,141.11 133.0,141.08 133.5,141.03 134.0,140.99 134.5,140.94 135.0,140.88 135.5,140.82 136.0,140.75 136.5,140.67 137.0,140.59 137.5,140.50 138.0,140.40 138.5,140.30 139.0,140.18 139.5,140.06 140.0,139.93 140.5,139.78 141.0,139.63 141.5,139.47 142.0,139.29 142.5,139.10 143.0,138.90 143.5,138.69 144.0,138.47 144.5,138.23 145.0,137.98 145.5,137.71 146.0,137.42 146.5,137.11 147.0,136.78 147.5,136.42 148.0,136.03 148.5,135.60 149.0,135.11 149.5,134.57 150.0,133.95 150.5,133.24 151.0,132.42 151.5,131.47 152.0,130.38 152.5,129.11 153.0,127.65 153.5,125.97 154.0,124.06 154.5,121.91 155.0,119.51 155.5,116.86 156.0,113.97 156.5,110.87 157.0,107.59 157.5,104.19 158.0,100.72 158.5,97.25 159.0,93.86 159.5,90.65 160.0,87.70 160.5,85.09 161.0,82.90 161.5,81.21 162.0,80.07 162.5,79.52 163.0,79.54 163.5,79.96 164.0,80.77 164.5,81.94 165.0,83.44 165.5,85.26 166.0,87.34 166.5,89.64 167.0,92.12 167.5,94.73 168.0,97.43 168.5,100.16 169.0,102.89 169.5,105.58 170.0,108.19 170.5,110.70 171.0,113.07 171.5,115.31 172.0,117.38 172.5,119.29 173.0,121.03 173.5,122.60 174.0,124.02 174.5,125.29 175.0,126.41 175.5,127.41 176.0,128.30 176.5,129.09 177.0,129.80 177.5,130.43 178.0,131.01 178.5,131.54 179.0,132.03 179.5,132.49 180.0,132.93 180.5,133.35 181.0,133.76 181.5,134.16 182.0,134.55 182.5,134.94 183.0,135.32 183.5,135.69 184.0,136.06 184.5,136.41 185.0,136.76 185.5,137.22 186.0,137.68 186.5,138.11 187.0,138.54 187.5,138.94 188.0,139.33 188.5,139.13 189.0,138.92 189.5,138.68 190.0,138.43 190.5,138.56 191.0,138.67 191.5,138.76 192.0,138.84 192.5,138.91 193.0,138.97 193.5,139.16 194.0,139.33 194.5,139.50 195.0,139.65 195.5,139.81 196.0,139.95 196.5,140.09 197.0,140.22 197.5,140.27 198.0,140.32 198.5,140.36 199.0,140.40 199.5,140.43 200.0,140.46 200.5,140.49 201.0,140.52 201.5,140.54 202.0,140.56 202.5,140.58 203.0,140.60 203.5,140.70 204.0,140.79 204.5,140.89 205.0,140.98 205.5,141.07 206.0,141.16 206.5,141.30 207.0,141.44 207.5,141.58 208.0,141.72 208.5,141.86 209.0,142.00 209.5,141.98 210.0,141.96 210.5,141.93 211.0,141.91 211.5,141.89 212.0,141.86 212.5,141.70 213.0,141.55 213.5,141.39 214.0,141.23 214.5,141.07 215.0,140.91 215.5,140.87 216.0,140.83 216.5,140.79 217.0,140.76 217.5,140.72 218.0,140.68 218.5,140.64 219.0,140.60 219.5,140.62 220.0,140.63 220.5,140.65 221.0,140.67 221.5,140.69 222.0,140.71 222.5,140.72 223.0,140.74 223.5,140.76" fill="none" stroke="#008000" stroke-width="2" stroke-linejoin="round"/>
<polyline points="81.0,141.30 81.5,141.30 82.0,141.30 82.5,141.30 83.0,141.30 83.5,141.30 84.0,141.30 84.5,141.30 85.0,141.30 85.5,141.30 86.0,141.30 86.5,141.30 87.0,141.30 87.5,141.30 88.0,141.30 88.5,141.30 89.0,141.30 89.5,141.30 90.0,141.30 90.5,141.30 91.0,141.30 91.5,141.30 92.0,141.30 92.5,141.30 93.0,141.30 93.5,141.30 94.0,141.30 94.5,141.30 95.0,141.30 95.5,141.30 96.0,141.30 96.5,141.30 97.0,141.30 97.5,141.30 98.0,141.30 98.5,141.30 99.0,141.30 99.5,141.30 100.0,141.30 100.5,141.30 101.0,141.30 101.5,141.30 102.0,141.30 102.5,141.30 103.0,141.30 103.5,141.30 104.0,141.30 104.5,141.30 105.0,141.30 105.5,141.30 106.0,141.30 106.5,141.30 107.0,141.30 107.5,141.30 108.0,141.30 108.5,141.30 109.0,141.30 109.5,141.30 110.0,141.30 110.5,141.30 111.0,141.30 111.5,141.30 112.0,141.30 112.5,141.30 113.0,141.30 113.5,141.30 114.0,141.30 114.5,141.30 115.0,141.30 115.5,141.30 116.0,141.30 116.5,141.30 117.0,141.30 117.5,141.30 118.0,141.30 118.5,141.30 119.0,141.30 119.5,141.30 120.0,141.29 120.5,141.29 121.0,141.29 121.5,141.29 122.0,141.29 122.5,141.29 123.0,141.28 123.5,141.28 124.0,141.28 124.5,141.28 125.0,141.27 125.5,141.27 126.0,141.26 126.5,141.25 127.0,141.25 127.5,141.24 128.0,141.23 128.5,141.22 129.0,141.21 129.5,141.19 130.0,141.18 130.5,141.16 131.0,141.14 131.5,141.12 132.0,141.09 132.5,141.06 133.0,141.03 133.5,141.00 134.0,140.96 134.5,140.92 135.0,140.87 135.5,140.82 136.0,140.76 136.5,140.70 137.0,140.63 137.5,140.56 138.0,140.48 138.5,140.39 139.0,140.30 139.5,140.19 140.0,140.08 140.5,139.97 141.0,139.84 141.5,139.70 142.0,139.56 142.5,139.40 143.0,139.24 143.5,139.07 144.0,138.88 144.5,138.68 145.0,138.47 145.5,138.25 146.0,138.02 146.5,137.76 147.0,137.49 147.5,137.19 148.0,136.87 148.5,136.51 149.0,136.11 149.5,135.66 150.0,135.15 150.5,134.56 151.0,133.89 151.5,133.10 152.0,132.20 152.5,131.15 153.0,129.95 153.5,128.56 154.0,126.99 154.5,125.21 155.0,123.23 155.5,121.04 156.0,118.66 156.5,116.10 157.0,113.39 157.5,110.58 158.0,107.71 158.5,104.85 159.0,102.06 159.5,99.41 160.0,96.97 160.5,94.81 161.0,93.01 161.5,91.62 162.0,90.68 162.5,90.22 163.0,90.23 163.5,90.58 164.0,91.25 164.5,92.22 165.0,93.47 165.5,94.97 166.0,96.68 166.5,98.59 167.0,100.64 167.5,102.80 168.0,105.03 168.5,107.30 169.0,109.56 169.5,111.79 170.0,113.95 170.5,116.03 171.0,118.00 171.5,119.86 172.0,121.58 172.5,123.17 173.0,124.62 173.5,125.94 174.0,127.12 174.5,128.18 175.0,129.12 175.5,129.96 176.0,130.71 176.5,131.37 177.0,131.96 177.5,132.49 178.0,132.97 178.5,133.41 179.0,133.82 179.5,134.20 180.0,134.56 180.5,134.90 181.0,135.23 181.5,135.56 182.0,135.87 182.5,136.18 183.0,136.48 183.5,136.77 184.0,137.06 184.5,137.34 185.0,137.61 185.5,138.00 186.0,138.39 186.5,138.76 187.0,139.12 187.5,139.46 188.0,139.80 188.5,139.55 189.0,139.28 189.5,139.01 190.0,138.72 190.5,138.80 191.0,138.88 191.5,138.94 192.0,139.00 192.5,139.05 193.0,139.08 193.5,139.25 194.0,139.40 194.5,139.55 195.0,139.69 195.5,139.83 196.0,139.97 196.5,140.09 197.0,140.22 197.5,140.26 198.0,140.30 198.5,140.33 199.0,140.36 199.5,140.39 200.0,140.42 200.5,140.44 201.0,140.46 201.5,140.48 202.0,140.50 202.5,140.52 203.0,140.53 203.5,140.62 204.0,140.72 204.5,140.81 205.0,140.90 205.5,140.99 206.0,141.07 206.5,141.21 207.0,141.35 207.5,141.49 208.0,141.63 208.5,141.77 209.0,141.91 209.5,141.88 210.0,141.86 210.5,141.84 211.0,141.81 211.5,141.79 212.0,141.77 212.5,141.61 213.0,141.45 213.5,141.29 214.0,141.13 214.5,140.97 215.0,140.81 215.5,140.77 216.0,140.74 216.5,140.70 217.0,140.66 217.5,140.62 218.0,140.58 218.5,140.54 219.0,140.50 219.5,140.52 220.0,140.53 220.5,140.55 221.0,140.57 221.5,140.59 222.0,140.61 222.5,140.62 223.0,140.64 223.5,140.66" fill="none" stroke="#008b8b" stroke-width="2" stroke-linejoin="round"/>
<polyline points="81.0,142.60 81.5,142.60 82.0,142.60 82.5,142.60 83.0,142.60 83.5,142.60 84.0,142.60 84.5,142.60 85.0,142.60 85.5,142.60 86.0,142.60 86.5,142.60 87.0,142.60 87.5,142.60 88.0,142.60 88.5,142.60 89.0,142.60 89.5,142.60 90.0,142.60 90.5,142.60 91.0,142.60 91.5,142.60 92.0,142.60 92.5,142.60 93.0,142.60 93.5,142.60 94.0,142.60 94.5,142.60 95.0,142.60 95.5,142.60 96.0,142.60 96.5,142.60 97.0,142.60 97.5,142.60 98.0,142.60 98.5,142.60 99.0,142.60 99.5,142.60 100.0,142.60 100.5,142.60 101.0,142.60 101.5,142.60 102.0,142.60 102.5,142.60 103.0,142.60 103.5,142.60 104.0,142.60 104.5,142.60 105.0,142.60 105.5,142.60 106.0,142.60 106.5,142.60 107.0,142.60 107.5,142.60 108.0,142.60 108.5,142.60 109.0,142.60 109.5,142.60 110.0,142.60 110.5,142.60 111.0,142.60 111.5,142.60 112.0,142.60 112.5,142.60 113.0,142.60 113.5,142.60 114.0,142.60 114.5,142.60 115.0,142.60 115.5,142.60 116.0,142.60 116.5,142.60 117.0,142.60 117.5,142.60 118.0,142.60 118.5,142.60 119.0,142.60 119.5,142.60 120.0,142.60 120.5,142.59 121.0,142.59 121.5,142.59 122.0,142.59 122.5,142.59 123.0,142.59 123.5,142.58 124.0,142.58 124.5,142.58 125.0,142.57 125.5,142.57 126.0,142.57 126.5,142.56 127.0,142.55 127.5,142.55 128.0,142.54 128.5,142.53 129.0,142.52 129.5,142.51 130.0,142.49 130.5,142.48 131.0,142.46 131.5,142.44 132.0,142.42 132.5,142.39 133.0,142.36 133.5,142.33 134.0,142.30 134.5,142.26 135.0,142.22 135.5,142.18 136.0,142.13 136.5,142.07 137.0,142.01 137.5,141.95 138.0,141.88 138.5,141.80 139.0,141.72 139.5,141.63 140.0,141.53 140.5,141.43 141.0,141.31 141.5,141.19 142.0,141.07 142.5,140.93 143.0,140.79 143.5,140.63 144.0,140.47 144.5,140.30 145.0,140.11 145.5,139.92 146.0,139.71 146.5,139.48 147.0,139.24 147.5,138.98 148.0,138.70 148.5,138.38 149.0,138.03 149.5,137.63 150.0,137.18 150.5,136.67 151.0,136.07 151.5,135.38 152.0,134.59 152.5,133.66 153.0,132.60 153.5,131.38 154.0,130.00 154.5,128.43 155.0,126.69 155.5,124.76 156.0,122.66 156.5,120.41 157.0,118.02 157.5,115.55 158.0,113.02 158.5,110.50 159.0,108.04 159.5,105.71 160.0,103.56 160.5,101.66 161.0,100.08 161.5,98.85 162.0,98.02 162.5,97.62 163.0,97.63 163.5,97.94 164.0,98.53 164.5,99.38 165.0,100.48 165.5,101.80 166.0,103.31 166.5,104.99 167.0,106.80 167.5,108.70 168.0,110.66 168.5,112.66 169.0,114.65 169.5,116.61 170.0,118.52 170.5,120.35 171.0,122.09 171.5,123.72 172.0,125.24 172.5,126.64 173.0,127.91 173.5,129.07 174.0,130.11 174.5,131.05 175.0,131.88 175.5,132.62 176.0,133.27 176.5,133.86 177.0,134.38 177.5,134.84 178.0,135.27 178.5,135.65 179.0,136.01 179.5,136.35 180.0,136.66 180.5,136.97 181.0,137.26 181.5,137.54 182.0,137.82 182.5,138.09 183.0,138.35 183.5,138.61 184.0,138.87 184.5,139.11 185.0,139.35 185.5,139.71 186.0,140.07 186.5,140.41 187.0,140.74 187.5,141.06 188.0,141.37 188.5,141.10 189.0,140.81 189.5,140.52 190.0,140.21 190.5,140.28 191.0,140.34 191.5,140.39 192.0,140.43 192.5,140.47 193.0,140.49 193.5,140.65 194.0,140.79 194.5,140.94 195.0,141.07 195.5,141.20 196.0,141.33 196.5,141.45 197.0,141.57 197.5,141.61 198.0,141.64 198.5,141.67 199.0,141.70 199.5,141.72 200.0,141.74 200.5,141.77 201.0,141.78 201.5,141.80 202.0,141.82 202.5,141.83 203.0,141.85 203.5,141.94 204.0,142.03 204.5,142.12 205.0,142.21 205.5,142.29 206.0,142.38 206.5,142.52 207.0,142.66 207.5,142.80 208.0,142.94 208.5,143.07 209.0,143.21 209.5,143.19 210.0,143.16 210.5,143.14 211.0,143.12 211.5,143.09 212.0,143.07 212.5,142.91 213.0,142.75 213.5,142.59 214.0,142.43 214.5,142.27 215.0,142.11 215.5,142.07 216.0,142.04 216.5,142.00 217.0,141.96 217.5,141.92 218.0,141.88 218.5,141.84 219.0,141.80 219.5,141.82 220.0,141.83 220.5,141.85 221.0,141.87 221.5,141.89 222.0,141.91 222.5,141.92 223.0,141.94 223.5,141.96" fill="none" stroke="#b00000" stroke-width="2" stroke-linejoin="round"/>
<polyline points="81.0,139.40 81.5,139.40 82.0,139.40 82.5,139.40 83.0,139.40 83.5,139.40 84.0,139.40 84.5,139.40 85.0,139.40 85.5,139.40 86.0,139.40 86.5,139.40 87.0,139.40 87.5,139.40 88.0,139.40 88.5,139.40 89.0,139.40 89.5,139.40 90.0,139.40 90.5,139.40 91.0,139.40 91.5,139.40 92.0,139.40 92.5,139.40 93.0,139.40 93.5,139.40 94.0,139.40 94.5,139.40 95.0,139.40 95.5,139.40 96.0,139.40 96.5,139.40 97.0,139.40 97.5,139.40 98.0,139.40 98.5,139.40 99.0,139.40 99.5,139.40 100.0,139.40 100.5,139.40 101.0,139.40 101.5,139.40 102.0,139.40 102.5,139.40 103.0,139.40 103.5,139.40 104.0,139.40 104.5,139.40 105.0,139.40 105.5,139.40 106.0,139.40 106.5,139.40 107.0,139.40 107.5,139.40 108.0,139.40 108.5,139.40 109.0,139.40 109.5,139.40 110.0,139.40 110.5,139.40 111.0,139.40 111.5,139.40 112.0,139.40 112.5,139.40 113.0,139.40 113.5,139.40 114.0,139.40 114.5,139.40 115.0,139.40 115.5,139.40 116.0,139.40 116.5,139.40 117.0,139.40 117.5,139.40 118.0,139.40 118.5,139.40 119.0,139.40 119.5,139.40 120.0,139.40 120.5,139.40 121.0,139.40 121.5,139.39 122.0,139.39 122.5,139.39 123.0,139.39 123.5,139.39 124.0,139.39 124.5,139.39 125.0,139.38 125.5,139.38 126.0,139.38 126.5,139.38 127.0,139.37 127.5,139.37 128.0,139.36 128.5,139.36 129.0,139.35 129.5,139.34 130.0,139.33 130.5,139.32 131.0,139.31 131.5,139.30 132.0,139.29 132.5,139.27 133.0,139.25 133.5,139.24 134.0,139.21 134.5,139.19 135.0,139.17 135.5,139.14 136.0,139.11 136.5,139.07 137.0,139.04 137.5,139.00 138.0,138.95 138.5,138.90 139.0,138.85 139.5,138.80 140.0,138.74 140.5,138.67 141.0,138.60 141.5,138.53 142.0,138.45 142.5,138.36 143.0,138.28 143.5,138.18 144.0,138.08 144.5,137.97 145.0,137.86 145.5,137.74 146.0,137.61 146.5,137.47 147.0,137.32 147.5,137.16 148.0,136.98 148.5,136.78 149.0,136.57 149.5,136.32 150.0,136.04 150.5,135.72 151.0,135.35 151.5,134.93 152.0,134.43 152.5,133.86 153.0,133.20 153.5,132.45 154.0,131.59 154.5,130.62 155.0,129.53 155.5,128.34 156.0,127.04 156.5,125.64 157.0,124.16 157.5,122.63 158.0,121.06 158.5,119.50 159.0,117.97 159.5,116.53 160.0,115.20 160.5,114.02 161.0,113.04 161.5,112.27 162.0,111.76 162.5,111.51 163.0,111.52 163.5,111.71 164.0,112.08 164.5,112.61 165.0,113.29 165.5,114.11 166.0,115.05 166.5,116.09 167.0,117.21 167.5,118.40 168.0,119.62 168.5,120.86 169.0,122.10 169.5,123.32 170.0,124.50 170.5,125.65 171.0,126.73 171.5,127.75 172.0,128.70 172.5,129.57 173.0,130.37 173.5,131.10 174.0,131.75 174.5,132.34 175.0,132.86 175.5,133.32 176.0,133.74 176.5,134.10 177.0,134.43 177.5,134.73 178.0,134.99 178.5,135.23 179.0,135.45 179.5,135.66 180.0,135.86 180.5,136.04 181.0,136.22 181.5,136.39 182.0,136.56 182.5,136.72 183.0,136.87 183.5,137.03 184.0,137.18 184.5,137.32 185.0,137.46 185.5,137.73 186.0,137.99 186.5,138.25 187.0,138.50 187.5,138.74 188.0,138.98 188.5,138.64 189.0,138.29 189.5,137.93 190.0,137.57 190.5,137.59 191.0,137.61 191.5,137.62 192.0,137.62 192.5,137.62 193.0,137.61 193.5,137.74 194.0,137.86 194.5,137.98 195.0,138.09 195.5,138.20 196.0,138.31 196.5,138.42 197.0,138.52 197.5,138.54 198.0,138.56 198.5,138.58 199.0,138.60 199.5,138.61 200.0,138.63 200.5,138.64 201.0,138.65 201.5,138.66 202.0,138.67 202.5,138.68 203.0,138.69 203.5,138.78 204.0,138.86 204.5,138.95 205.0,139.03 205.5,139.12 206.0,139.20 206.5,139.34 207.0,139.48 207.5,139.61 208.0,139.75 208.5,139.89 209.0,140.02 209.5,140.00 210.0,139.97 210.5,139.95 211.0,139.92 211.5,139.90 212.0,139.87 212.5,139.71 213.0,139.55 213.5,139.39 214.0,139.24 214.5,139.08 215.0,138.92 215.5,138.88 216.0,138.84 216.5,138.80 217.0,138.76 217.5,138.72 218.0,138.68 218.5,138.64 219.0,138.60 219.5,138.62 220.0,138.63 220.5,138.65 221.0,138.67 221.5,138.69 222.0,138.71 222.5,138.72 223.0,138.74 223.5,138.76" fill="none" stroke="#ff0000" stroke-width="2" stroke-linejoin="round"/>
<rect x="67.10" y="4.50" width="170.10" height="146.80" fill="none" stroke="#3c3c3c" stroke-width="1.5"/>
<line x1="63.80" y1="19.60" x2="66.40" y2="19.60" stroke="#333" stroke-width="1.2" />
<line x1="63.80" y1="50.80" x2="66.40" y2="50.80" stroke="#333" stroke-width="1.2" />
<line x1="63.80" y1="82.00" x2="66.40" y2="82.00" stroke="#333" stroke-width="1.2" />
<line x1="63.80" y1="113.20" x2="66.40" y2="113.20" stroke="#333" stroke-width="1.2" />
<line x1="63.80" y1="144.10" x2="66.40" y2="144.10" stroke="#333" stroke-width="1.2" />
<line x1="81.40" y1="152.00" x2="81.40" y2="154.60" stroke="#333" stroke-width="1.2" />
<line x1="109.60" y1="152.00" x2="109.60" y2="154.60" stroke="#333" stroke-width="1.2" />
<line x1="137.80" y1="152.00" x2="137.80" y2="154.60" stroke="#333" stroke-width="1.2" />
<line x1="166.00" y1="152.00" x2="166.00" y2="154.60" stroke="#333" stroke-width="1.2" />
<line x1="194.20" y1="152.00" x2="194.20" y2="154.60" stroke="#333" stroke-width="1.2" />
<line x1="222.40" y1="152.00" x2="222.40" y2="154.60" stroke="#333" stroke-width="1.2" />
<text transform="translate(59.40,22.50) scale(0.87,1)" font-size="8.39" text-anchor="end" fill="#111">1.6×10</text>
<text transform="translate(62.60,19.00) scale(0.87,1)" font-size="5.29" text-anchor="end" fill="#111">5</text>
<text transform="translate(59.40,53.70) scale(0.87,1)" font-size="8.39" text-anchor="end" fill="#111">1.2×10</text>
<text transform="translate(62.60,50.20) scale(0.87,1)" font-size="5.29" text-anchor="end" fill="#111">5</text>
<text transform="translate(59.40,84.90) scale(0.87,1)" font-size="8.39" text-anchor="end" fill="#111">8.0×10</text>
<text transform="translate(62.60,81.40) scale(0.87,1)" font-size="5.29" text-anchor="end" fill="#111">6</text>
<text transform="translate(59.40,116.10) scale(0.87,1)" font-size="8.39" text-anchor="end" fill="#111">4.0×10</text>
<text transform="translate(62.60,112.60) scale(0.87,1)" font-size="5.29" text-anchor="end" fill="#111">6</text>
<text transform="translate(62.60,147.00) scale(0.87,1)" x="0" y="0" font-size="8.28" text-anchor="end" fill="#111" stroke="#111" stroke-width="0.18">0.0</text>
<text transform="translate(81.40,162.40) scale(0.87,1)" x="0" y="0" font-size="8.28" text-anchor="middle" fill="#111" stroke="#111" stroke-width="0.18">-0.2</text>
<text transform="translate(109.60,162.40) scale(0.87,1)" x="0" y="0" font-size="8.28" text-anchor="middle" fill="#111" stroke="#111" stroke-width="0.18">0.0</text>
<text transform="translate(137.80,162.40) scale(0.87,1)" x="0" y="0" font-size="8.28" text-anchor="middle" fill="#111" stroke="#111" stroke-width="0.18">0.2</text>
<text transform="translate(166.00,162.40) scale(0.87,1)" x="0" y="0" font-size="8.28" text-anchor="middle" fill="#111" stroke="#111" stroke-width="0.18">0.4</text>
<text transform="translate(194.20,162.40) scale(0.87,1)" x="0" y="0" font-size="8.28" text-anchor="middle" fill="#111" stroke="#111" stroke-width="0.18">0.6</text>
<text transform="translate(222.40,162.40) scale(0.87,1)" x="0" y="0" font-size="8.28" text-anchor="middle" fill="#111" stroke="#111" stroke-width="0.18">0.8</text>
<text transform="translate(28.00,120.60) rotate(-90)" x="0" y="0" font-size="12.7" text-anchor="start" fill="#111" textLength="68.80" lengthAdjust="spacingAndGlyphs">Current, I (A)</text>
<text x="127.00" y="179.20" font-size="12.6" text-anchor="start" fill="#111" textLength="74.20" lengthAdjust="spacingAndGlyphs" >Potential, E (V)</text>
<line x1="163.2" y1="14.3" x2="188.5" y2="14.3" stroke="#222" stroke-width="0.7" marker-end="url(#arr)"/>
<text x="191.00" y="16.30" font-size="7.4" text-anchor="start" fill="#111" textLength="25.00" lengthAdjust="spacingAndGlyphs" >1<tspan font-style="normal">μ</tspan>M PA</text>
<line x1="184.5" y1="101.5" x2="174.5" y2="109.5" stroke="#222" stroke-width="0.7" marker-end="url(#arr)"/>
<text x="187.60" y="102.80" font-size="7.4" text-anchor="start" fill="#111" textLength="31.30" lengthAdjust="spacingAndGlyphs" >0.1<tspan font-style="normal">μ</tspan>M PA</text>
<rect x="8.8" y="163.9" width="15.3" height="14.8" fill="#ffff00"/>
<text x="9.00" y="175.10" font-size="12.5" text-anchor="start" fill="#111" stroke="#111" stroke-width="0.35">(a)</text>
<rect x="280.90" y="131.39" width="13.8" height="23.51" fill="url(#redbar)" stroke="#501010" stroke-width="0.4"/>
<rect x="298.06" y="125.20" width="13.8" height="29.70" fill="url(#redbar)" stroke="#501010" stroke-width="0.4"/>
<rect x="315.22" y="111.22" width="13.8" height="43.68" fill="url(#redbar)" stroke="#501010" stroke-width="0.4"/>
<rect x="332.38" y="103.94" width="13.8" height="50.96" fill="url(#redbar)" stroke="#501010" stroke-width="0.4"/>
<rect x="349.54" y="93.75" width="13.8" height="61.15" fill="url(#redbar)" stroke="#501010" stroke-width="0.4"/>
<rect x="366.70" y="82.39" width="13.8" height="72.51" fill="url(#redbar)" stroke="#501010" stroke-width="0.4"/>
<rect x="383.86" y="74.82" width="13.8" height="80.08" fill="url(#redbar)" stroke="#501010" stroke-width="0.4"/>
<rect x="401.02" y="60.26" width="13.8" height="94.64" fill="url(#redbar)" stroke="#501010" stroke-width="0.4"/>
<rect x="418.18" y="45.70" width="13.8" height="109.20" fill="url(#redbar)" stroke="#501010" stroke-width="0.4"/>
<rect x="435.34" y="31.14" width="13.8" height="123.76" fill="url(#redbar)" stroke="#501010" stroke-width="0.4"/>
<rect x="279.30" y="16.40" width="172.00" height="138.50" fill="none" stroke="#1a1a1a" stroke-width="1.2"/>
<line x1="276.10" y1="154.90" x2="278.70" y2="154.90" stroke="#222" stroke-width="1.1" />
<line x1="276.10" y1="125.78" x2="278.70" y2="125.78" stroke="#222" stroke-width="1.1" />
<line x1="276.10" y1="96.66" x2="278.70" y2="96.66" stroke="#222" stroke-width="1.1" />
<line x1="276.10" y1="67.54" x2="278.70" y2="67.54" stroke="#222" stroke-width="1.1" />
<line x1="276.10" y1="38.42" x2="278.70" y2="38.42" stroke="#222" stroke-width="1.1" />
<text transform="translate(275.40,156.80) scale(0.87,1)" x="0" y="0" font-size="8.28" text-anchor="end" fill="#111" stroke="#111" stroke-width="0.18">0</text>
<text transform="translate(275.40,127.68) scale(0.87,1)" x="0" y="0" font-size="8.28" text-anchor="end" fill="#111" stroke="#111" stroke-width="0.18">4</text>
<text transform="translate(275.40,98.56) scale(0.87,1)" x="0" y="0" font-size="8.28" text-anchor="end" fill="#111" stroke="#111" stroke-width="0.18">8</text>
<text transform="translate(275.40,69.44) scale(0.87,1)" x="0" y="0" font-size="8.28" text-anchor="end" fill="#111" stroke="#111" stroke-width="0.18">12</text>
<text transform="translate(275.40,40.32) scale(0.87,1)" x="0" y="0" font-size="8.28" text-anchor="end" fill="#111" stroke="#111" stroke-width="0.18">16</text>
<line x1="287.80" y1="155.50" x2="287.80" y2="157.90" stroke="#222" stroke-width="1.1" />
<line x1="304.96" y1="155.50" x2="304.96" y2="157.90" stroke="#222" stroke-width="1.1" />
<line x1="322.12" y1="155.50" x2="322.12" y2="157.90" stroke="#222" stroke-width="1.1" />
<line x1="339.28" y1="155.50" x2="339.28" y2="157.90" stroke="#222" stroke-width="1.1" />
<line x1="356.44" y1="155.50" x2="356.44" y2="157.90" stroke="#222" stroke-width="1.1" />
<line x1="373.60" y1="155.50" x2="373.60" y2="157.90" stroke="#222" stroke-width="1.1" />
<line x1="390.76" y1="155.50" x2="390.76" y2="157.90" stroke="#222" stroke-width="1.1" />
<line x1="407.92" y1="155.50" x2="407.92" y2="157.90" stroke="#222" stroke-width="1.1" />
<line x1="425.08" y1="155.50" x2="425.08" y2="157.90" stroke="#222" stroke-width="1.1" />
<line x1="442.24" y1="155.50" x2="442.24" y2="157.90" stroke="#222" stroke-width="1.1" />
<text transform="translate(287.80,164.90) scale(0.87,1)" x="0" y="0" font-size="8.05" text-anchor="middle" fill="#111" stroke="#111" stroke-width="0.18">0.1</text>
<text transform="translate(304.96,164.90) scale(0.87,1)" x="0" y="0" font-size="8.05" text-anchor="middle" fill="#111" stroke="#111" stroke-width="0.18">0.2</text>
<text transform="translate(322.12,164.90) scale(0.87,1)" x="0" y="0" font-size="8.05" text-anchor="middle" fill="#111" stroke="#111" stroke-width="0.18">0.3</text>
<text transform="translate(339.28,164.90) scale(0.87,1)" x="0" y="0" font-size="8.05" text-anchor="middle" fill="#111" stroke="#111" stroke-width="0.18">0.4</text>
<text transform="translate(356.44,164.90) scale(0.87,1)" x="0" y="0" font-size="8.05" text-anchor="middle" fill="#111" stroke="#111" stroke-width="0.18">0.5</text>
<text transform="translate(373.60,164.90) scale(0.87,1)" x="0" y="0" font-size="8.05" text-anchor="middle" fill="#111" stroke="#111" stroke-width="0.18">0.6</text>
<text transform="translate(390.76,164.90) scale(0.87,1)" x="0" y="0" font-size="8.05" text-anchor="middle" fill="#111" stroke="#111" stroke-width="0.18">0.7</text>
<text transform="translate(407.92,164.90) scale(0.87,1)" x="0" y="0" font-size="8.05" text-anchor="middle" fill="#111" stroke="#111" stroke-width="0.18">0.8</text>
<text transform="translate(425.08,164.90) scale(0.87,1)" x="0" y="0" font-size="8.05" text-anchor="middle" fill="#111" stroke="#111" stroke-width="0.18">0.9</text>
<text transform="translate(442.24,164.90) scale(0.87,1)" x="0" y="0" font-size="8.05" text-anchor="middle" fill="#111" stroke="#111" stroke-width="0.18">1.0</text>
<text transform="translate(256.30,131.60) rotate(-90)" x="0" y="0" font-size="12.6" text-anchor="start" fill="#111" textLength="74.40" lengthAdjust="spacingAndGlyphs">Current, I (μA)</text>
<text x="350.30" y="180.30" font-size="12.6" text-anchor="start" fill="#111" textLength="48.00" lengthAdjust="spacingAndGlyphs" >PA in <tspan font-style="normal">μ</tspan>M</text>
<rect x="242.1" y="163.9" width="15.9" height="14.8" fill="#ffff00"/>
<text x="242.40" y="175.10" font-size="12.5" text-anchor="start" fill="#111" stroke="#111" stroke-width="0.35">(b)</text>
<line x1="512.1" y1="145.4" x2="667.9" y2="42.1" stroke="#ff2020" stroke-width="1.5"/>
<line x1="512.40" y1="141.80" x2="512.40" y2="143.76" stroke="#1a1aff" stroke-width="1.35" />
<line x1="510.60" y1="141.80" x2="514.20" y2="141.80" stroke="#1a1aff" stroke-width="1.4" />
<line x1="510.60" y1="143.76" x2="514.20" y2="143.76" stroke="#1a1aff" stroke-width="1.4" />
<circle cx="512.40" cy="142.78" r="1.5" fill="#1a1aff"/>
<line x1="529.60" y1="135.44" x2="529.60" y2="138.21" stroke="#1a1aff" stroke-width="1.35" />
<line x1="527.80" y1="135.44" x2="531.40" y2="135.44" stroke="#1a1aff" stroke-width="1.4" />
<line x1="527.80" y1="138.21" x2="531.40" y2="138.21" stroke="#1a1aff" stroke-width="1.4" />
<circle cx="529.60" cy="136.83" r="1.5" fill="#1a1aff"/>
<line x1="546.80" y1="118.33" x2="546.80" y2="123.06" stroke="#1a1aff" stroke-width="1.35" />
<line x1="545.00" y1="118.33" x2="548.60" y2="118.33" stroke="#1a1aff" stroke-width="1.4" />
<line x1="545.00" y1="123.06" x2="548.60" y2="123.06" stroke="#1a1aff" stroke-width="1.4" />
<circle cx="546.80" cy="120.69" r="1.5" fill="#1a1aff"/>
<line x1="564.00" y1="110.67" x2="564.00" y2="116.37" stroke="#1a1aff" stroke-width="1.35" />
<line x1="562.20" y1="110.67" x2="565.80" y2="110.67" stroke="#1a1aff" stroke-width="1.4" />
<line x1="562.20" y1="116.37" x2="565.80" y2="116.37" stroke="#1a1aff" stroke-width="1.4" />
<circle cx="564.00" cy="113.52" r="1.5" fill="#1a1aff"/>
<line x1="581.20" y1="98.61" x2="581.20" y2="105.61" stroke="#1a1aff" stroke-width="1.35" />
<line x1="579.40" y1="98.61" x2="583.00" y2="98.61" stroke="#1a1aff" stroke-width="1.4" />
<line x1="579.40" y1="105.61" x2="583.00" y2="105.61" stroke="#1a1aff" stroke-width="1.4" />
<circle cx="581.20" cy="102.11" r="1.5" fill="#1a1aff"/>
<line x1="598.40" y1="85.08" x2="598.40" y2="93.55" stroke="#1a1aff" stroke-width="1.35" />
<line x1="596.60" y1="85.08" x2="600.20" y2="85.08" stroke="#1a1aff" stroke-width="1.4" />
<line x1="596.60" y1="93.55" x2="600.20" y2="93.55" stroke="#1a1aff" stroke-width="1.4" />
<circle cx="598.40" cy="89.31" r="1.5" fill="#1a1aff"/>
<line x1="615.60" y1="74.89" x2="615.60" y2="84.34" stroke="#1a1aff" stroke-width="1.35" />
<line x1="613.80" y1="74.89" x2="617.40" y2="74.89" stroke="#1a1aff" stroke-width="1.4" />
<line x1="613.80" y1="84.34" x2="617.40" y2="84.34" stroke="#1a1aff" stroke-width="1.4" />
<circle cx="615.60" cy="79.62" r="1.5" fill="#1a1aff"/>
<line x1="632.80" y1="58.26" x2="632.80" y2="69.18" stroke="#1a1aff" stroke-width="1.35" />
<line x1="631.00" y1="58.26" x2="634.60" y2="58.26" stroke="#1a1aff" stroke-width="1.4" />
<line x1="631.00" y1="69.18" x2="634.60" y2="69.18" stroke="#1a1aff" stroke-width="1.4" />
<circle cx="632.80" cy="63.72" r="1.5" fill="#1a1aff"/>
<line x1="650.00" y1="41.64" x2="650.00" y2="54.19" stroke="#1a1aff" stroke-width="1.35" />
<line x1="648.20" y1="41.64" x2="651.80" y2="41.64" stroke="#1a1aff" stroke-width="1.4" />
<line x1="648.20" y1="54.19" x2="651.80" y2="54.19" stroke="#1a1aff" stroke-width="1.4" />
<circle cx="650.00" cy="47.91" r="1.5" fill="#1a1aff"/>
<line x1="667.20" y1="24.52" x2="667.20" y2="38.54" stroke="#1a1aff" stroke-width="1.35" />
<line x1="665.40" y1="24.52" x2="669.00" y2="24.52" stroke="#1a1aff" stroke-width="1.4" />
<line x1="665.40" y1="38.54" x2="669.00" y2="38.54" stroke="#1a1aff" stroke-width="1.4" />
<circle cx="667.20" cy="31.53" r="1.5" fill="#1a1aff"/>
<rect x="503.90" y="15.80" width="172.20" height="138.20" fill="none" stroke="#111" stroke-width="1.6"/>
<line x1="500.50" y1="153.70" x2="503.10" y2="153.70" stroke="#111" stroke-width="1.3" />
<line x1="500.50" y1="137.40" x2="503.10" y2="137.40" stroke="#111" stroke-width="1.3" />
<line x1="500.50" y1="121.10" x2="503.10" y2="121.10" stroke="#111" stroke-width="1.3" />
<line x1="500.50" y1="104.80" x2="503.10" y2="104.80" stroke="#111" stroke-width="1.3" />
<line x1="500.50" y1="88.50" x2="503.10" y2="88.50" stroke="#111" stroke-width="1.3" />
<line x1="500.50" y1="72.20" x2="503.10" y2="72.20" stroke="#111" stroke-width="1.3" />
<line x1="500.50" y1="55.90" x2="503.10" y2="55.90" stroke="#111" stroke-width="1.3" />
<line x1="500.50" y1="39.60" x2="503.10" y2="39.60" stroke="#111" stroke-width="1.3" />
<line x1="500.50" y1="23.30" x2="503.10" y2="23.30" stroke="#111" stroke-width="1.3" />
<text transform="translate(499.00,155.70) scale(0.87,1)" x="0" y="0" font-size="7.82" text-anchor="end" fill="#111" stroke="#111" stroke-width="0.18">2</text>
<text transform="translate(499.00,139.40) scale(0.87,1)" x="0" y="0" font-size="7.82" text-anchor="end" fill="#111" stroke="#111" stroke-width="0.18">4</text>
<text transform="translate(499.00,123.10) scale(0.87,1)" x="0" y="0" font-size="7.82" text-anchor="end" fill="#111" stroke="#111" stroke-width="0.18">6</text>
<text transform="translate(499.00,106.80) scale(0.87,1)" x="0" y="0" font-size="7.82" text-anchor="end" fill="#111" stroke="#111" stroke-width="0.18">8</text>
<text transform="translate(499.00,90.50) scale(0.87,1)" x="0" y="0" font-size="7.82" text-anchor="end" fill="#111" stroke="#111" stroke-width="0.18">10</text>
<text transform="translate(499.00,74.20) scale(0.87,1)" x="0" y="0" font-size="7.82" text-anchor="end" fill="#111" stroke="#111" stroke-width="0.18">12</text>
<text transform="translate(499.00,57.90) scale(0.87,1)" x="0" y="0" font-size="7.82" text-anchor="end" fill="#111" stroke="#111" stroke-width="0.18">14</text>
<text transform="translate(499.00,41.60) scale(0.87,1)" x="0" y="0" font-size="7.82" text-anchor="end" fill="#111" stroke="#111" stroke-width="0.18">16</text>
<text transform="translate(499.00,25.30) scale(0.87,1)" x="0" y="0" font-size="7.82" text-anchor="end" fill="#111" stroke="#111" stroke-width="0.18">18</text>
<line x1="512.40" y1="154.80" x2="512.40" y2="157.00" stroke="#111" stroke-width="1.3" />
<line x1="529.60" y1="154.80" x2="529.60" y2="157.00" stroke="#111" stroke-width="1.3" />
<line x1="546.80" y1="154.80" x2="546.80" y2="157.00" stroke="#111" stroke-width="1.3" />
<line x1="564.00" y1="154.80" x2="564.00" y2="157.00" stroke="#111" stroke-width="1.3" />
<line x1="581.20" y1="154.80" x2="581.20" y2="157.00" stroke="#111" stroke-width="1.3" />
<line x1="598.40" y1="154.80" x2="598.40" y2="157.00" stroke="#111" stroke-width="1.3" />
<line x1="615.60" y1="154.80" x2="615.60" y2="157.00" stroke="#111" stroke-width="1.3" />
<line x1="632.80" y1="154.80" x2="632.80" y2="157.00" stroke="#111" stroke-width="1.3" />
<line x1="650.00" y1="154.80" x2="650.00" y2="157.00" stroke="#111" stroke-width="1.3" />
<line x1="667.20" y1="154.80" x2="667.20" y2="157.00" stroke="#111" stroke-width="1.3" />
<text transform="translate(512.40,164.60) scale(0.87,1)" x="0" y="0" font-size="9.31" text-anchor="middle" fill="#111" stroke="#111" stroke-width="0.18">0.1</text>
<text transform="translate(529.60,164.60) scale(0.87,1)" x="0" y="0" font-size="9.31" text-anchor="middle" fill="#111" stroke="#111" stroke-width="0.18">0.2</text>
<text transform="translate(546.80,164.60) scale(0.87,1)" x="0" y="0" font-size="9.31" text-anchor="middle" fill="#111" stroke="#111" stroke-width="0.18">0.3</text>
<text transform="translate(564.00,164.60) scale(0.87,1)" x="0" y="0" font-size="9.31" text-anchor="middle" fill="#111" stroke="#111" stroke-width="0.18">0.4</text>
<text transform="translate(581.20,164.60) scale(0.87,1)" x="0" y="0" font-size="9.31" text-anchor="middle" fill="#111" stroke="#111" stroke-width="0.18">0.5</text>
<text transform="translate(598.40,164.60) scale(0.87,1)" x="0" y="0" font-size="9.31" text-anchor="middle" fill="#111" stroke="#111" stroke-width="0.18">0.6</text>
<text transform="translate(615.60,164.60) scale(0.87,1)" x="0" y="0" font-size="9.31" text-anchor="middle" fill="#111" stroke="#111" stroke-width="0.18">0.7</text>
<text transform="translate(632.80,164.60) scale(0.87,1)" x="0" y="0" font-size="9.31" text-anchor="middle" fill="#111" stroke="#111" stroke-width="0.18">0.8</text>
<text transform="translate(650.00,164.60) scale(0.87,1)" x="0" y="0" font-size="9.31" text-anchor="middle" fill="#111" stroke="#111" stroke-width="0.18">0.9</text>
<text transform="translate(667.20,164.60) scale(0.87,1)" x="0" y="0" font-size="9.31" text-anchor="middle" fill="#111" stroke="#111" stroke-width="0.18">1.0</text>
<text x="532.3" y="39.9" font-size="6.9" fill="#111" stroke="#111" stroke-width="0.2" font-style="normal" text-anchor="start" textLength="99.5" lengthAdjust="spacingAndGlyphs"><tspan font-style="italic">y</tspan>=15.04*x + 0.484, (<tspan font-style="italic">R</tspan><tspan font-size="4.2" dy="-2.6">2</tspan><tspan dy="2.6">=0.995)</tspan></text>
<text transform="translate(481.40,127.20) rotate(-90)" x="0" y="0" font-size="12.6" text-anchor="start" fill="#111" textLength="75.20" lengthAdjust="spacingAndGlyphs">Current, I (μA)</text>
<text x="568.60" y="181.20" font-size="12.6" text-anchor="start" fill="#111" textLength="49.00" lengthAdjust="spacingAndGlyphs" >PA in <tspan font-style="normal">μ</tspan>M</text>
<rect x="473.4" y="163.9" width="14.6" height="14.8" fill="#ffff00"/>
<text x="473.80" y="175.10" font-size="12.5" text-anchor="start" fill="#111" stroke="#111" stroke-width="0.35">(c)</text>
<polyline points="63.8,325.9 65.8,322.0 68.0,318.5 70.6,315.0 73.5,311.4 76.7,307.6 80.2,303.4 84.7,298.6 90.2,293.5 97.2,287.0 105.9,280.0 116.8,272.0 130.3,263.0 146.0,254.3 164.9,246.6 186.7,239.2 209.8,232.8" fill="none" stroke="#0c8a0c" stroke-width="1.8"/>
<circle cx="63.8" cy="325.9" r="3.4" fill="url(#gball)"/>
<circle cx="65.8" cy="322.0" r="3.4" fill="url(#gball)"/>
<circle cx="68.0" cy="318.5" r="3.4" fill="url(#gball)"/>
<circle cx="70.6" cy="315.0" r="3.4" fill="url(#gball)"/>
<circle cx="73.5" cy="311.4" r="3.4" fill="url(#gball)"/>
<circle cx="76.7" cy="307.6" r="3.4" fill="url(#gball)"/>
<circle cx="80.2" cy="303.4" r="3.4" fill="url(#gball)"/>
<circle cx="84.7" cy="298.6" r="3.4" fill="url(#gball)"/>
<circle cx="90.2" cy="293.5" r="3.4" fill="url(#gball)"/>
<circle cx="97.2" cy="287.0" r="3.4" fill="url(#gball)"/>
<circle cx="105.9" cy="280.0" r="3.4" fill="url(#gball)"/>
<circle cx="116.8" cy="272.0" r="3.4" fill="url(#gball)"/>
<circle cx="130.3" cy="263.0" r="3.4" fill="url(#gball)"/>
<circle cx="146.0" cy="254.3" r="3.4" fill="url(#gball)"/>
<circle cx="164.9" cy="246.6" r="3.4" fill="url(#gball)"/>
<circle cx="186.7" cy="239.2" r="3.4" fill="url(#gball)"/>
<circle cx="209.8" cy="232.8" r="3.4" fill="url(#gball)"/>
<polyline points="64.0,326.5 65.1,324.1 67.2,321.4 69.6,319.6 72.8,318.5 76.1,317.9 79.3,317.7 82.5,317.9 85.7,318.2 88.9,318.7 92.1,319.0 95.3,319.0 98.5,318.5 101.7,317.4 104.9,316.1 108.2,314.5 111.7,312.6 115.4,310.2 119.4,307.6 123.9,304.6 128.7,301.3 133.8,298.5 139.5,296.0" fill="none" stroke="#ff2020" stroke-width="1.4"/>
<circle cx="64.0" cy="326.5" r="3.2" fill="url(#pball)"/>
<circle cx="65.1" cy="324.1" r="3.2" fill="url(#pball)"/>
<circle cx="67.2" cy="321.4" r="3.2" fill="url(#pball)"/>
<circle cx="69.6" cy="319.6" r="3.2" fill="url(#pball)"/>
<circle cx="72.8" cy="318.5" r="3.2" fill="url(#pball)"/>
<circle cx="76.1" cy="317.9" r="3.2" fill="url(#pball)"/>
<circle cx="79.3" cy="317.7" r="3.2" fill="url(#pball)"/>
<circle cx="82.5" cy="317.9" r="3.2" fill="url(#pball)"/>
<circle cx="85.7" cy="318.2" r="3.2" fill="url(#pball)"/>
<circle cx="88.9" cy="318.7" r="3.2" fill="url(#pball)"/>
<circle cx="92.1" cy="319.0" r="3.2" fill="url(#pball)"/>
<circle cx="95.3" cy="319.0" r="3.2" fill="url(#pball)"/>
<circle cx="98.5" cy="318.5" r="3.2" fill="url(#pball)"/>
<circle cx="101.7" cy="317.4" r="3.2" fill="url(#pball)"/>
<circle cx="104.9" cy="316.1" r="3.2" fill="url(#pball)"/>
<circle cx="108.2" cy="314.5" r="3.2" fill="url(#pball)"/>
<circle cx="111.7" cy="312.6" r="3.2" fill="url(#pball)"/>
<circle cx="115.4" cy="310.2" r="3.2" fill="url(#pball)"/>
<circle cx="119.4" cy="307.6" r="3.2" fill="url(#pball)"/>
<circle cx="123.9" cy="304.6" r="3.2" fill="url(#pball)"/>
<circle cx="128.7" cy="301.3" r="3.2" fill="url(#pball)"/>
<circle cx="133.8" cy="298.5" r="3.2" fill="url(#pball)"/>
<circle cx="139.5" cy="296.0" r="3.2" fill="url(#pball)"/>
<circle cx="64.8" cy="326.2" r="3.8" fill="url(#pball)"/>
<rect x="61.90" y="192.40" width="177.50" height="146.80" fill="none" stroke="#444" stroke-width="1.6"/>
<line x1="58.70" y1="204.10" x2="61.10" y2="204.10" stroke="#333" stroke-width="1.2" />
<line x1="58.70" y1="228.60" x2="61.10" y2="228.60" stroke="#333" stroke-width="1.2" />
<line x1="58.70" y1="253.10" x2="61.10" y2="253.10" stroke="#333" stroke-width="1.2" />
<line x1="58.70" y1="277.60" x2="61.10" y2="277.60" stroke="#333" stroke-width="1.2" />
<line x1="58.70" y1="302.10" x2="61.10" y2="302.10" stroke="#333" stroke-width="1.2" />
<line x1="58.70" y1="326.60" x2="61.10" y2="326.60" stroke="#333" stroke-width="1.2" />
<text transform="translate(57.40,206.20) scale(0.87,1)" x="0" y="0" font-size="8.51" text-anchor="end" fill="#111" stroke="#111" stroke-width="0.18">-100.0k</text>
<text transform="translate(57.40,230.70) scale(0.87,1)" x="0" y="0" font-size="8.51" text-anchor="end" fill="#111" stroke="#111" stroke-width="0.18">-80.0k</text>
<text transform="translate(57.40,255.20) scale(0.87,1)" x="0" y="0" font-size="8.51" text-anchor="end" fill="#111" stroke="#111" stroke-width="0.18">-60.0k</text>
<text transform="translate(57.40,279.70) scale(0.87,1)" x="0" y="0" font-size="8.51" text-anchor="end" fill="#111" stroke="#111" stroke-width="0.18">-40.0k</text>
<text transform="translate(57.40,304.20) scale(0.87,1)" x="0" y="0" font-size="8.51" text-anchor="end" fill="#111" stroke="#111" stroke-width="0.18">-20.0k</text>
<text transform="translate(57.40,328.70) scale(0.87,1)" x="0" y="0" font-size="8.51" text-anchor="end" fill="#111" stroke="#111" stroke-width="0.18">0.0</text>
<line x1="65.50" y1="340.00" x2="65.50" y2="342.20" stroke="#333" stroke-width="1.2" />
<line x1="110.60" y1="340.00" x2="110.60" y2="342.20" stroke="#333" stroke-width="1.2" />
<line x1="155.70" y1="340.00" x2="155.70" y2="342.20" stroke="#333" stroke-width="1.2" />
<line x1="200.80" y1="340.00" x2="200.80" y2="342.20" stroke="#333" stroke-width="1.2" />
<text transform="translate(65.90,349.60) scale(0.87,1)" x="0" y="0" font-size="8.51" text-anchor="middle" fill="#111" stroke="#111" stroke-width="0.18">0.0</text>
<text transform="translate(111.00,349.60) scale(0.87,1)" x="0" y="0" font-size="8.51" text-anchor="middle" fill="#111" stroke="#111" stroke-width="0.18">30.0k</text>
<text transform="translate(156.10,349.60) scale(0.87,1)" x="0" y="0" font-size="8.51" text-anchor="middle" fill="#111" stroke="#111" stroke-width="0.18">60.0k</text>
<text transform="translate(201.20,349.60) scale(0.87,1)" x="0" y="0" font-size="8.51" text-anchor="middle" fill="#111" stroke="#111" stroke-width="0.18">90.0k</text>
<line x1="62.60" y1="199.70" x2="89.80" y2="199.70" stroke="#0c8a0c" stroke-width="1.8" />
<circle cx="76.4" cy="199.7" r="3.5" fill="url(#gball)"/>
<line x1="62.60" y1="215.00" x2="89.80" y2="215.00" stroke="#ff2020" stroke-width="1.8" />
<circle cx="76.4" cy="215" r="3.5" fill="url(#pball)"/>
<text x="89.80" y="203.90" font-size="11.8" text-anchor="start" fill="#111" textLength="19.40" lengthAdjust="spacingAndGlyphs" >BE1</text>
<text x="92.90" y="219.30" font-size="12.0" text-anchor="start" fill="#111" textLength="47.80" lengthAdjust="spacingAndGlyphs" >EZO-ME1</text>
<text transform="translate(28.70,288.50) rotate(-90)" x="0" y="0" font-size="12.4" text-anchor="start" fill="#111" textLength="41.90" lengthAdjust="spacingAndGlyphs">Z''/ohm</text>
<text x="137.40" y="367.90" font-size="12.8" text-anchor="start" fill="#111" textLength="38.80" lengthAdjust="spacingAndGlyphs" >Z'/ohm</text>
<rect x="8.8" y="351.6" width="15.3" height="14.4" fill="#ffff00"/>
<text x="9.00" y="362.40" font-size="12.5" text-anchor="start" fill="#111" stroke="#111" stroke-width="0.35">(d)</text>
<rect x="281.10" y="209.40" width="29.7" height="132.60" fill="url(#greenbar)" stroke="#555" stroke-width="0.6"/>
<rect x="317.20" y="207.80" width="29.7" height="134.20" fill="url(#greenbar)" stroke="#555" stroke-width="0.6"/>
<rect x="353.80" y="208.60" width="29.7" height="133.40" fill="url(#greenbar)" stroke="#555" stroke-width="0.6"/>
<rect x="389.80" y="209.40" width="29.7" height="132.60" fill="url(#greenbar)" stroke="#555" stroke-width="0.6"/>
<rect x="426.20" y="209.60" width="29.7" height="132.40" fill="url(#greenbar)" stroke="#555" stroke-width="0.6"/>
<rect x="277.50" y="194.80" width="182.00" height="147.20" fill="none" stroke="#3a3a3a" stroke-width="1.4"/>
<line x1="274.40" y1="342.00" x2="276.80" y2="342.00" stroke="#222" stroke-width="1.1" />
<line x1="274.40" y1="312.56" x2="276.80" y2="312.56" stroke="#222" stroke-width="1.1" />
<line x1="274.40" y1="283.12" x2="276.80" y2="283.12" stroke="#222" stroke-width="1.1" />
<line x1="274.40" y1="253.68" x2="276.80" y2="253.68" stroke="#222" stroke-width="1.1" />
<line x1="274.40" y1="224.24" x2="276.80" y2="224.24" stroke="#222" stroke-width="1.1" />
<line x1="274.40" y1="194.80" x2="276.80" y2="194.80" stroke="#222" stroke-width="1.1" />
<text transform="translate(273.10,343.50) scale(0.87,1)" x="0" y="0" font-size="8.05" text-anchor="end" fill="#111" stroke="#111" stroke-width="0.18">0</text>
<text transform="translate(273.10,314.06) scale(0.87,1)" x="0" y="0" font-size="8.05" text-anchor="end" fill="#111" stroke="#111" stroke-width="0.18">20</text>
<text transform="translate(273.10,284.62) scale(0.87,1)" x="0" y="0" font-size="8.05" text-anchor="end" fill="#111" stroke="#111" stroke-width="0.18">40</text>
<text transform="translate(273.10,255.18) scale(0.87,1)" x="0" y="0" font-size="8.05" text-anchor="end" fill="#111" stroke="#111" stroke-width="0.18">60</text>
<text transform="translate(273.10,225.74) scale(0.87,1)" x="0" y="0" font-size="8.05" text-anchor="end" fill="#111" stroke="#111" stroke-width="0.18">80</text>
<text transform="translate(273.10,196.30) scale(0.87,1)" x="0" y="0" font-size="8.05" text-anchor="end" fill="#111" stroke="#111" stroke-width="0.18">100</text>
<line x1="295.95" y1="342.70" x2="295.95" y2="344.90" stroke="#222" stroke-width="1.1" />
<line x1="332.05" y1="342.70" x2="332.05" y2="344.90" stroke="#222" stroke-width="1.1" />
<line x1="368.65" y1="342.70" x2="368.65" y2="344.90" stroke="#222" stroke-width="1.1" />
<line x1="404.65" y1="342.70" x2="404.65" y2="344.90" stroke="#222" stroke-width="1.1" />
<line x1="441.05" y1="342.70" x2="441.05" y2="344.90" stroke="#222" stroke-width="1.1" />
<text transform="translate(295.95,352.70) scale(0.87,1)" x="0" y="0" font-size="8.05" text-anchor="middle" fill="#111" stroke="#111" stroke-width="0.18">1</text>
<text transform="translate(332.05,352.70) scale(0.87,1)" x="0" y="0" font-size="8.05" text-anchor="middle" fill="#111" stroke="#111" stroke-width="0.18">2</text>
<text transform="translate(368.65,352.70) scale(0.87,1)" x="0" y="0" font-size="8.05" text-anchor="middle" fill="#111" stroke="#111" stroke-width="0.18">3</text>
<text transform="translate(404.65,352.70) scale(0.87,1)" x="0" y="0" font-size="8.05" text-anchor="middle" fill="#111" stroke="#111" stroke-width="0.18">4</text>
<text transform="translate(441.05,352.70) scale(0.87,1)" x="0" y="0" font-size="8.05" text-anchor="middle" fill="#111" stroke="#111" stroke-width="0.18">5</text>
<text transform="translate(255.40,298.60) rotate(-90)" x="0" y="0" font-size="12.7" text-anchor="start" fill="#111" textLength="85.20" lengthAdjust="spacingAndGlyphs">Degradation (%)</text>
<text x="333.80" y="366.60" font-size="12.6" text-anchor="start" fill="#111" textLength="61.00" lengthAdjust="spacingAndGlyphs" >No of Cycles</text>
<rect x="242.1" y="351.6" width="14.6" height="14.4" fill="#ffff00"/>
<text x="242.50" y="362.40" font-size="12.5" text-anchor="start" fill="#111" stroke="#111" stroke-width="0.35">(e)</text>
<line x1="531.40" y1="324.00" x2="531.44" y2="322.80" stroke="rgb(255,0,0)" stroke-width="3.00" stroke-linecap="round"/>
<line x1="531.44" y1="322.80" x2="531.48" y2="321.60" stroke="rgb(255,0,0)" stroke-width="3.00" stroke-linecap="round"/>
<line x1="531.48" y1="321.60" x2="531.52" y2="320.40" stroke="rgb(255,0,0)" stroke-width="3.00" stroke-linecap="round"/>
<line x1="531.52" y1="320.40" x2="531.56" y2="319.20" stroke="rgb(255,0,0)" stroke-width="3.00" stroke-linecap="round"/>
<line x1="531.56" y1="319.20" x2="531.60" y2="318.00" stroke="rgb(255,0,0)" stroke-width="3.00" stroke-linecap="round"/>
<line x1="531.60" y1="318.00" x2="531.73" y2="316.67" stroke="rgb(255,0,0)" stroke-width="3.00" stroke-linecap="round"/>
<line x1="531.73" y1="316.67" x2="531.87" y2="315.33" stroke="rgb(255,0,0)" stroke-width="3.00" stroke-linecap="round"/>
<line x1="531.87" y1="315.33" x2="532.00" y2="314.00" stroke="rgb(255,0,0)" stroke-width="3.00" stroke-linecap="round"/>
<line x1="532.00" y1="314.00" x2="532.20" y2="312.60" stroke="rgb(255,0,0)" stroke-width="3.00" stroke-linecap="round"/>
<line x1="532.20" y1="312.60" x2="532.40" y2="311.20" stroke="rgb(255,30,0)" stroke-width="3.00" stroke-linecap="round"/>
<line x1="532.40" y1="311.20" x2="532.60" y2="309.80" stroke="rgb(255,68,0)" stroke-width="3.00" stroke-linecap="round"/>
<line x1="532.60" y1="309.80" x2="532.80" y2="308.40" stroke="rgb(255,107,0)" stroke-width="3.00" stroke-linecap="round"/>
<line x1="532.80" y1="308.40" x2="533.00" y2="307.00" stroke="rgb(255,114,0)" stroke-width="3.00" stroke-linecap="round"/>
<line x1="533.00" y1="307.00" x2="533.33" y2="305.83" stroke="rgb(255,119,0)" stroke-width="3.00" stroke-linecap="round"/>
<line x1="533.33" y1="305.83" x2="533.67" y2="304.67" stroke="rgb(255,124,0)" stroke-width="3.00" stroke-linecap="round"/>
<line x1="533.67" y1="304.67" x2="534.00" y2="303.50" stroke="rgb(255,128,0)" stroke-width="3.00" stroke-linecap="round"/>
<line x1="534.00" y1="303.50" x2="534.33" y2="302.33" stroke="rgb(255,132,0)" stroke-width="3.00" stroke-linecap="round"/>
<line x1="534.33" y1="302.33" x2="534.67" y2="301.17" stroke="rgb(255,137,0)" stroke-width="3.00" stroke-linecap="round"/>
<line x1="534.67" y1="301.17" x2="535.00" y2="300.00" stroke="rgb(255,155,0)" stroke-width="3.00" stroke-linecap="round"/>
<line x1="535.00" y1="300.00" x2="535.67" y2="298.83" stroke="rgb(255,200,0)" stroke-width="3.00" stroke-linecap="round"/>
<line x1="535.67" y1="298.83" x2="536.33" y2="297.67" stroke="rgb(255,245,0)" stroke-width="3.00" stroke-linecap="round"/>
<line x1="536.33" y1="297.67" x2="537.00" y2="296.50" stroke="rgb(255,255,0)" stroke-width="3.00" stroke-linecap="round"/>
<line x1="537.00" y1="296.50" x2="537.67" y2="295.33" stroke="rgb(255,255,0)" stroke-width="3.00" stroke-linecap="round"/>
<line x1="537.67" y1="295.33" x2="538.33" y2="294.17" stroke="rgb(255,255,0)" stroke-width="3.00" stroke-linecap="round"/>
<line x1="538.33" y1="294.17" x2="539.00" y2="293.00" stroke="rgb(255,255,0)" stroke-width="3.00" stroke-linecap="round"/>
<line x1="539.00" y1="293.00" x2="539.86" y2="291.96" stroke="rgb(255,255,0)" stroke-width="3.00" stroke-linecap="round"/>
<line x1="539.86" y1="291.96" x2="540.71" y2="290.91" stroke="rgb(255,255,0)" stroke-width="3.00" stroke-linecap="round"/>
<line x1="540.71" y1="290.91" x2="541.57" y2="289.87" stroke="rgb(255,255,0)" stroke-width="3.00" stroke-linecap="round"/>
<line x1="541.57" y1="289.87" x2="542.43" y2="288.83" stroke="rgb(255,255,0)" stroke-width="3.00" stroke-linecap="round"/>
<line x1="542.43" y1="288.83" x2="543.29" y2="287.79" stroke="rgb(255,255,0)" stroke-width="3.00" stroke-linecap="round"/>
<line x1="543.29" y1="287.79" x2="544.14" y2="286.74" stroke="rgb(245,253,0)" stroke-width="3.00" stroke-linecap="round"/>
<line x1="544.14" y1="286.74" x2="545.00" y2="285.70" stroke="rgb(202,249,0)" stroke-width="3.00" stroke-linecap="round"/>
<line x1="545.00" y1="285.70" x2="546.25" y2="284.90" stroke="rgb(163,245,0)" stroke-width="3.00" stroke-linecap="round"/>
<line x1="546.25" y1="284.90" x2="547.50" y2="284.10" stroke="rgb(130,242,0)" stroke-width="3.00" stroke-linecap="round"/>
<line x1="547.50" y1="284.10" x2="548.75" y2="283.30" stroke="rgb(109,240,0)" stroke-width="3.00" stroke-linecap="round"/>
<line x1="548.75" y1="283.30" x2="550.00" y2="282.50" stroke="rgb(107,240,0)" stroke-width="3.00" stroke-linecap="round"/>
<line x1="550.00" y1="282.50" x2="551.27" y2="281.88" stroke="rgb(105,241,0)" stroke-width="3.00" stroke-linecap="round"/>
<line x1="551.27" y1="281.88" x2="552.55" y2="281.25" stroke="rgb(103,241,0)" stroke-width="3.00" stroke-linecap="round"/>
<line x1="552.55" y1="281.25" x2="553.83" y2="280.62" stroke="rgb(101,242,0)" stroke-width="3.00" stroke-linecap="round"/>
<line x1="553.83" y1="280.62" x2="555.10" y2="280.00" stroke="rgb(100,242,0)" stroke-width="3.00" stroke-linecap="round"/>
<line x1="555.10" y1="280.00" x2="556.35" y2="279.62" stroke="rgb(98,243,0)" stroke-width="3.00" stroke-linecap="round"/>
<line x1="556.35" y1="279.62" x2="557.60" y2="279.25" stroke="rgb(97,243,0)" stroke-width="3.00" stroke-linecap="round"/>
<line x1="557.60" y1="279.25" x2="558.85" y2="278.88" stroke="rgb(97,243,0)" stroke-width="3.00" stroke-linecap="round"/>
<line x1="558.85" y1="278.88" x2="560.10" y2="278.50" stroke="rgb(96,244,0)" stroke-width="3.00" stroke-linecap="round"/>
<line x1="560.10" y1="278.50" x2="561.35" y2="278.12" stroke="rgb(95,244,0)" stroke-width="3.00" stroke-linecap="round"/>
<line x1="561.35" y1="278.12" x2="562.60" y2="277.75" stroke="rgb(94,244,0)" stroke-width="3.00" stroke-linecap="round"/>
<line x1="562.60" y1="277.75" x2="563.85" y2="277.38" stroke="rgb(93,245,0)" stroke-width="3.00" stroke-linecap="round"/>
<line x1="563.85" y1="277.38" x2="565.10" y2="277.00" stroke="rgb(92,245,0)" stroke-width="3.00" stroke-linecap="round"/>
<line x1="565.10" y1="277.00" x2="566.35" y2="276.75" stroke="rgb(91,245,0)" stroke-width="3.00" stroke-linecap="round"/>
<line x1="566.35" y1="276.75" x2="567.60" y2="276.50" stroke="rgb(90,245,0)" stroke-width="3.00" stroke-linecap="round"/>
<line x1="567.60" y1="276.50" x2="568.85" y2="276.25" stroke="rgb(89,246,0)" stroke-width="3.00" stroke-linecap="round"/>
<line x1="568.85" y1="276.25" x2="570.10" y2="276.00" stroke="rgb(89,246,0)" stroke-width="3.00" stroke-linecap="round"/>
<line x1="570.10" y1="276.00" x2="571.35" y2="275.75" stroke="rgb(88,246,0)" stroke-width="3.00" stroke-linecap="round"/>
<line x1="571.35" y1="275.75" x2="572.60" y2="275.50" stroke="rgb(87,246,0)" stroke-width="3.00" stroke-linecap="round"/>
<line x1="572.60" y1="275.50" x2="573.85" y2="275.25" stroke="rgb(87,246,0)" stroke-width="3.00" stroke-linecap="round"/>
<line x1="573.85" y1="275.25" x2="575.10" y2="275.00" stroke="rgb(86,247,0)" stroke-width="3.00" stroke-linecap="round"/>
<line x1="575.10" y1="275.00" x2="576.35" y2="274.80" stroke="rgb(86,247,0)" stroke-width="3.00" stroke-linecap="round"/>
<line x1="576.35" y1="274.80" x2="577.60" y2="274.60" stroke="rgb(85,247,0)" stroke-width="3.00" stroke-linecap="round"/>
<line x1="577.60" y1="274.60" x2="578.85" y2="274.40" stroke="rgb(85,247,0)" stroke-width="3.00" stroke-linecap="round"/>
<line x1="578.85" y1="274.40" x2="580.10" y2="274.20" stroke="rgb(84,247,0)" stroke-width="3.00" stroke-linecap="round"/>
<line x1="580.10" y1="274.20" x2="581.35" y2="274.00" stroke="rgb(83,247,0)" stroke-width="3.00" stroke-linecap="round"/>
<line x1="581.35" y1="274.00" x2="582.60" y2="273.80" stroke="rgb(83,247,0)" stroke-width="3.00" stroke-linecap="round"/>
<line x1="582.60" y1="273.80" x2="583.85" y2="273.60" stroke="rgb(82,248,0)" stroke-width="3.00" stroke-linecap="round"/>
<line x1="583.85" y1="273.60" x2="585.10" y2="273.40" stroke="rgb(82,248,0)" stroke-width="3.00" stroke-linecap="round"/>
<line x1="585.10" y1="273.40" x2="586.20" y2="272.85" stroke="rgb(81,248,0)" stroke-width="3.00" stroke-linecap="round"/>
<line x1="586.20" y1="272.85" x2="587.30" y2="272.30" stroke="rgb(79,249,0)" stroke-width="3.00" stroke-linecap="round"/>
<line x1="587.30" y1="272.30" x2="588.40" y2="271.75" stroke="rgb(78,249,0)" stroke-width="3.00" stroke-linecap="round"/>
<line x1="588.40" y1="271.75" x2="589.50" y2="271.20" stroke="rgb(77,249,0)" stroke-width="3.00" stroke-linecap="round"/>
<line x1="589.50" y1="271.20" x2="590.38" y2="270.27" stroke="rgb(75,250,0)" stroke-width="3.00" stroke-linecap="round"/>
<line x1="590.38" y1="270.27" x2="591.25" y2="269.35" stroke="rgb(72,251,0)" stroke-width="3.00" stroke-linecap="round"/>
<line x1="591.25" y1="269.35" x2="592.12" y2="268.43" stroke="rgb(70,251,0)" stroke-width="3.00" stroke-linecap="round"/>
<line x1="592.12" y1="268.43" x2="593.00" y2="267.50" stroke="rgb(67,252,0)" stroke-width="3.00" stroke-linecap="round"/>
<line x1="593.00" y1="267.50" x2="593.75" y2="266.38" stroke="rgb(65,253,0)" stroke-width="3.00" stroke-linecap="round"/>
<line x1="593.75" y1="266.38" x2="594.50" y2="265.25" stroke="rgb(62,254,0)" stroke-width="3.00" stroke-linecap="round"/>
<line x1="594.50" y1="265.25" x2="595.25" y2="264.12" stroke="rgb(53,255,26)" stroke-width="3.00" stroke-linecap="round"/>
<line x1="595.25" y1="264.12" x2="596.00" y2="263.00" stroke="rgb(31,255,122)" stroke-width="3.00" stroke-linecap="round"/>
<line x1="596.00" y1="263.00" x2="596.65" y2="261.75" stroke="rgb(7,255,223)" stroke-width="3.00" stroke-linecap="round"/>
<line x1="596.65" y1="261.75" x2="597.30" y2="260.50" stroke="rgb(0,253,255)" stroke-width="3.00" stroke-linecap="round"/>
<line x1="597.30" y1="260.50" x2="597.95" y2="259.25" stroke="rgb(0,250,255)" stroke-width="3.00" stroke-linecap="round"/>
<line x1="597.95" y1="259.25" x2="598.60" y2="258.00" stroke="rgb(0,247,255)" stroke-width="3.00" stroke-linecap="round"/>
<line x1="598.60" y1="258.00" x2="599.09" y2="256.86" stroke="rgb(0,244,255)" stroke-width="3.00" stroke-linecap="round"/>
<line x1="599.09" y1="256.86" x2="599.57" y2="255.71" stroke="rgb(0,242,255)" stroke-width="3.00" stroke-linecap="round"/>
<line x1="599.57" y1="255.71" x2="600.06" y2="254.57" stroke="rgb(0,239,255)" stroke-width="3.00" stroke-linecap="round"/>
<line x1="600.06" y1="254.57" x2="600.54" y2="253.43" stroke="rgb(0,236,255)" stroke-width="3.00" stroke-linecap="round"/>
<line x1="600.54" y1="253.43" x2="601.03" y2="252.29" stroke="rgb(0,234,255)" stroke-width="3.00" stroke-linecap="round"/>
<line x1="601.03" y1="252.29" x2="601.51" y2="251.14" stroke="rgb(0,231,255)" stroke-width="3.00" stroke-linecap="round"/>
<line x1="601.51" y1="251.14" x2="602.00" y2="250.00" stroke="rgb(3,218,255)" stroke-width="3.00" stroke-linecap="round"/>
<line x1="602.00" y1="250.00" x2="602.50" y2="248.75" stroke="rgb(14,186,255)" stroke-width="3.00" stroke-linecap="round"/>
<line x1="602.50" y1="248.75" x2="603.00" y2="247.50" stroke="rgb(24,153,255)" stroke-width="3.00" stroke-linecap="round"/>
<line x1="603.00" y1="247.50" x2="603.50" y2="246.25" stroke="rgb(26,148,255)" stroke-width="3.00" stroke-linecap="round"/>
<line x1="603.50" y1="246.25" x2="604.00" y2="245.00" stroke="rgb(26,146,255)" stroke-width="3.00" stroke-linecap="round"/>
<line x1="604.00" y1="245.00" x2="604.50" y2="243.75" stroke="rgb(26,144,255)" stroke-width="3.00" stroke-linecap="round"/>
<line x1="604.50" y1="243.75" x2="605.00" y2="242.50" stroke="rgb(26,143,255)" stroke-width="3.00" stroke-linecap="round"/>
<line x1="605.00" y1="242.50" x2="605.42" y2="241.25" stroke="rgb(26,141,255)" stroke-width="3.00" stroke-linecap="round"/>
<line x1="605.42" y1="241.25" x2="605.83" y2="240.00" stroke="rgb(22,131,255)" stroke-width="3.00" stroke-linecap="round"/>
<line x1="605.83" y1="240.00" x2="606.25" y2="238.75" stroke="rgb(11,102,255)" stroke-width="3.90" stroke-linecap="round"/>
<line x1="606.25" y1="238.75" x2="606.67" y2="237.50" stroke="rgb(1,72,255)" stroke-width="3.90" stroke-linecap="round"/>
<line x1="606.67" y1="237.50" x2="607.08" y2="236.25" stroke="rgb(0,50,255)" stroke-width="3.90" stroke-linecap="round"/>
<line x1="607.08" y1="236.25" x2="607.50" y2="235.00" stroke="rgb(0,28,255)" stroke-width="3.90" stroke-linecap="round"/>
<line x1="607.50" y1="235.00" x2="608.00" y2="233.62" stroke="rgb(0,5,255)" stroke-width="3.90" stroke-linecap="round"/>
<line x1="608.00" y1="233.62" x2="608.50" y2="232.25" stroke="rgb(0,0,253)" stroke-width="3.90" stroke-linecap="round"/>
<line x1="608.50" y1="232.25" x2="609.00" y2="230.88" stroke="rgb(0,0,251)" stroke-width="3.90" stroke-linecap="round"/>
<line x1="609.00" y1="230.88" x2="609.50" y2="229.50" stroke="rgb(0,0,250)" stroke-width="3.90" stroke-linecap="round"/>
<line x1="609.50" y1="229.50" x2="609.98" y2="228.20" stroke="rgb(0,0,248)" stroke-width="3.90" stroke-linecap="round"/>
<line x1="609.98" y1="228.20" x2="610.45" y2="226.90" stroke="rgb(0,0,246)" stroke-width="3.90" stroke-linecap="round"/>
<line x1="610.45" y1="226.90" x2="610.92" y2="225.60" stroke="rgb(0,0,245)" stroke-width="3.90" stroke-linecap="round"/>
<line x1="610.92" y1="225.60" x2="611.40" y2="224.30" stroke="rgb(0,0,243)" stroke-width="3.90" stroke-linecap="round"/>
<line x1="611.40" y1="224.30" x2="612.10" y2="225.37" stroke="rgb(0,0,243)" stroke-width="4.41" stroke-linecap="round"/>
<line x1="612.10" y1="225.37" x2="612.80" y2="226.43" stroke="rgb(0,0,244)" stroke-width="4.44" stroke-linecap="round"/>
<line x1="612.80" y1="226.43" x2="613.50" y2="227.50" stroke="rgb(0,0,246)" stroke-width="4.46" stroke-linecap="round"/>
<line x1="613.50" y1="227.50" x2="614.33" y2="228.67" stroke="rgb(0,0,247)" stroke-width="4.49" stroke-linecap="round"/>
<line x1="614.33" y1="228.67" x2="615.17" y2="229.83" stroke="rgb(0,0,249)" stroke-width="4.53" stroke-linecap="round"/>
<line x1="615.17" y1="229.83" x2="616.00" y2="231.00" stroke="rgb(0,0,250)" stroke-width="4.57" stroke-linecap="round"/>
<line x1="616.00" y1="231.00" x2="616.75" y2="232.25" stroke="rgb(0,0,252)" stroke-width="3.62" stroke-linecap="round"/>
<line x1="616.75" y1="232.25" x2="617.50" y2="233.50" stroke="rgb(0,0,253)" stroke-width="3.67" stroke-linecap="round"/>
<line x1="617.50" y1="233.50" x2="618.25" y2="234.75" stroke="rgb(0,2,255)" stroke-width="3.73" stroke-linecap="round"/>
<line x1="618.25" y1="234.75" x2="619.00" y2="236.00" stroke="rgb(0,24,255)" stroke-width="3.79" stroke-linecap="round"/>
<line x1="619.00" y1="236.00" x2="619.80" y2="236.90" stroke="rgb(0,42,255)" stroke-width="3.86" stroke-linecap="round"/>
<line x1="619.80" y1="236.90" x2="620.60" y2="237.80" stroke="rgb(0,58,255)" stroke-width="3.94" stroke-linecap="round"/>
<line x1="620.60" y1="237.80" x2="621.40" y2="238.70" stroke="rgb(2,75,255)" stroke-width="4.03" stroke-linecap="round"/>
<line x1="621.40" y1="238.70" x2="622.20" y2="239.60" stroke="rgb(9,96,255)" stroke-width="4.12" stroke-linecap="round"/>
<line x1="622.20" y1="239.60" x2="623.00" y2="240.50" stroke="rgb(17,117,255)" stroke-width="4.22" stroke-linecap="round"/>
<line x1="623.00" y1="240.50" x2="624.25" y2="241.32" stroke="rgb(25,137,255)" stroke-width="4.35" stroke-linecap="round"/>
<line x1="624.25" y1="241.32" x2="625.50" y2="242.15" stroke="rgb(26,141,255)" stroke-width="4.52" stroke-linecap="round"/>
<line x1="625.50" y1="242.15" x2="626.75" y2="242.98" stroke="rgb(26,142,255)" stroke-width="4.70" stroke-linecap="round"/>
<line x1="626.75" y1="242.98" x2="628.00" y2="243.80" stroke="rgb(26,143,255)" stroke-width="4.87" stroke-linecap="round"/>
<line x1="628.00" y1="243.80" x2="629.38" y2="244.10" stroke="rgb(26,144,255)" stroke-width="5.05" stroke-linecap="round"/>
<line x1="629.38" y1="244.10" x2="630.76" y2="244.40" stroke="rgb(26,144,255)" stroke-width="5.22" stroke-linecap="round"/>
<line x1="630.76" y1="244.40" x2="632.14" y2="244.70" stroke="rgb(26,145,255)" stroke-width="5.37" stroke-linecap="round"/>
<line x1="632.14" y1="244.70" x2="633.52" y2="245.00" stroke="rgb(26,145,255)" stroke-width="5.49" stroke-linecap="round"/>
<line x1="633.52" y1="245.00" x2="634.90" y2="245.30" stroke="rgb(26,145,255)" stroke-width="5.56" stroke-linecap="round"/>
<line x1="634.90" y1="245.30" x2="636.32" y2="245.10" stroke="rgb(26,146,255)" stroke-width="5.60" stroke-linecap="round"/>
<line x1="636.32" y1="245.10" x2="637.74" y2="244.90" stroke="rgb(26,145,255)" stroke-width="5.59" stroke-linecap="round"/>
<line x1="637.74" y1="244.90" x2="639.16" y2="244.70" stroke="rgb(26,145,255)" stroke-width="5.53" stroke-linecap="round"/>
<line x1="639.16" y1="244.70" x2="640.58" y2="244.50" stroke="rgb(26,145,255)" stroke-width="5.43" stroke-linecap="round"/>
<line x1="640.58" y1="244.50" x2="642.00" y2="244.30" stroke="rgb(26,144,255)" stroke-width="5.29" stroke-linecap="round"/>
<line x1="642.00" y1="244.30" x2="643.20" y2="243.80" stroke="rgb(26,144,255)" stroke-width="5.14" stroke-linecap="round"/>
<line x1="643.20" y1="243.80" x2="644.40" y2="243.30" stroke="rgb(26,143,255)" stroke-width="4.99" stroke-linecap="round"/>
<line x1="644.40" y1="243.30" x2="645.60" y2="242.80" stroke="rgb(26,142,255)" stroke-width="4.82" stroke-linecap="round"/>
<line x1="645.60" y1="242.80" x2="646.80" y2="242.30" stroke="rgb(26,142,255)" stroke-width="4.65" stroke-linecap="round"/>
<line x1="646.80" y1="242.30" x2="648.00" y2="241.80" stroke="rgb(26,141,255)" stroke-width="4.49" stroke-linecap="round"/>
<line x1="648.00" y1="241.80" x2="649.02" y2="241.10" stroke="rgb(26,140,255)" stroke-width="4.34" stroke-linecap="round"/>
<line x1="649.02" y1="241.10" x2="650.03" y2="240.40" stroke="rgb(23,134,255)" stroke-width="4.20" stroke-linecap="round"/>
<line x1="650.03" y1="240.40" x2="651.05" y2="239.70" stroke="rgb(17,117,255)" stroke-width="4.08" stroke-linecap="round"/>
<line x1="651.05" y1="239.70" x2="652.07" y2="239.00" stroke="rgb(11,101,255)" stroke-width="3.97" stroke-linecap="round"/>
<line x1="652.07" y1="239.00" x2="653.08" y2="238.30" stroke="rgb(5,85,255)" stroke-width="3.87" stroke-linecap="round"/>
<line x1="653.08" y1="238.30" x2="654.10" y2="237.60" stroke="rgb(0,69,255)" stroke-width="3.77" stroke-linecap="round"/>
<line x1="654.10" y1="237.60" x2="655.08" y2="236.68" stroke="rgb(0,54,255)" stroke-width="3.69" stroke-linecap="round"/>
<line x1="655.08" y1="236.68" x2="656.06" y2="235.76" stroke="rgb(0,38,255)" stroke-width="3.63" stroke-linecap="round"/>
<line x1="656.06" y1="235.76" x2="657.04" y2="234.84" stroke="rgb(0,22,255)" stroke-width="3.57" stroke-linecap="round"/>
<line x1="657.04" y1="234.84" x2="658.02" y2="233.92" stroke="rgb(0,6,255)" stroke-width="3.52" stroke-linecap="round"/>
<line x1="658.02" y1="233.92" x2="659.00" y2="233.00" stroke="rgb(0,0,254)" stroke-width="3.47" stroke-linecap="round"/>
<line x1="659.00" y1="233.00" x2="659.95" y2="232.12" stroke="rgb(0,0,253)" stroke-width="3.44" stroke-linecap="round"/>
<line x1="659.95" y1="232.12" x2="660.90" y2="231.25" stroke="rgb(0,0,252)" stroke-width="3.41" stroke-linecap="round"/>
<line x1="660.90" y1="231.25" x2="661.85" y2="230.38" stroke="rgb(0,0,251)" stroke-width="3.39" stroke-linecap="round"/>
<line x1="661.85" y1="230.38" x2="662.80" y2="229.50" stroke="rgb(0,0,249)" stroke-width="3.37" stroke-linecap="round"/>
<line x1="662.80" y1="229.50" x2="663.50" y2="228.28" stroke="rgb(0,0,248)" stroke-width="3.35" stroke-linecap="round"/>
<line x1="663.50" y1="228.28" x2="664.20" y2="227.05" stroke="rgb(0,0,247)" stroke-width="3.34" stroke-linecap="round"/>
<line x1="664.20" y1="227.05" x2="664.90" y2="225.82" stroke="rgb(0,0,245)" stroke-width="3.34" stroke-linecap="round"/>
<line x1="664.90" y1="225.82" x2="665.60" y2="224.60" stroke="rgb(0,0,244)" stroke-width="3.33" stroke-linecap="round"/>
<line x1="665.60" y1="224.60" x2="665.62" y2="225.83" stroke="rgb(0,0,244)" stroke-width="2.80" stroke-linecap="round"/>
<line x1="665.62" y1="225.83" x2="665.63" y2="227.07" stroke="rgb(0,0,245)" stroke-width="2.80" stroke-linecap="round"/>
<line x1="665.63" y1="227.07" x2="665.65" y2="228.30" stroke="rgb(0,0,247)" stroke-width="2.80" stroke-linecap="round"/>
<line x1="665.65" y1="228.30" x2="665.67" y2="229.53" stroke="rgb(0,0,248)" stroke-width="2.80" stroke-linecap="round"/>
<line x1="665.67" y1="229.53" x2="665.68" y2="230.77" stroke="rgb(0,0,250)" stroke-width="2.80" stroke-linecap="round"/>
<line x1="665.68" y1="230.77" x2="665.70" y2="232.00" stroke="rgb(0,0,251)" stroke-width="2.80" stroke-linecap="round"/>
<line x1="665.70" y1="232.00" x2="665.67" y2="233.33" stroke="rgb(0,0,253)" stroke-width="2.80" stroke-linecap="round"/>
<line x1="665.67" y1="233.33" x2="665.63" y2="234.67" stroke="rgb(0,0,255)" stroke-width="2.80" stroke-linecap="round"/>
<line x1="665.63" y1="234.67" x2="665.60" y2="236.00" stroke="rgb(0,23,255)" stroke-width="2.80" stroke-linecap="round"/>
<line x1="665.60" y1="236.00" x2="665.57" y2="237.33" stroke="rgb(0,46,255)" stroke-width="2.80" stroke-linecap="round"/>
<line x1="665.57" y1="237.33" x2="665.53" y2="238.67" stroke="rgb(0,70,255)" stroke-width="2.80" stroke-linecap="round"/>
<line x1="665.53" y1="238.67" x2="665.50" y2="240.00" stroke="rgb(11,101,255)" stroke-width="2.80" stroke-linecap="round"/>
<line x1="665.50" y1="240.00" x2="665.48" y2="241.25" stroke="rgb(22,131,255)" stroke-width="2.80" stroke-linecap="round"/>
<line x1="665.48" y1="241.25" x2="665.45" y2="242.50" stroke="rgb(26,141,255)" stroke-width="2.80" stroke-linecap="round"/>
<line x1="665.45" y1="242.50" x2="665.42" y2="243.75" stroke="rgb(26,143,255)" stroke-width="2.80" stroke-linecap="round"/>
<line x1="665.42" y1="243.75" x2="665.40" y2="245.00" stroke="rgb(26,144,255)" stroke-width="2.80" stroke-linecap="round"/>
<line x1="665.40" y1="245.00" x2="665.38" y2="246.25" stroke="rgb(26,146,255)" stroke-width="2.80" stroke-linecap="round"/>
<line x1="665.38" y1="246.25" x2="665.35" y2="247.50" stroke="rgb(26,148,255)" stroke-width="2.80" stroke-linecap="round"/>
<line x1="665.35" y1="247.50" x2="665.32" y2="248.75" stroke="rgb(24,153,255)" stroke-width="2.80" stroke-linecap="round"/>
<line x1="665.32" y1="248.75" x2="665.30" y2="250.00" stroke="rgb(14,186,255)" stroke-width="2.80" stroke-linecap="round"/>
<line x1="665.30" y1="250.00" x2="665.23" y2="251.33" stroke="rgb(2,221,255)" stroke-width="2.80" stroke-linecap="round"/>
<line x1="665.23" y1="251.33" x2="665.17" y2="252.67" stroke="rgb(0,232,255)" stroke-width="2.80" stroke-linecap="round"/>
<line x1="665.17" y1="252.67" x2="665.10" y2="254.00" stroke="rgb(0,235,255)" stroke-width="2.80" stroke-linecap="round"/>
<line x1="665.10" y1="254.00" x2="665.03" y2="255.33" stroke="rgb(0,238,255)" stroke-width="2.80" stroke-linecap="round"/>
<line x1="665.03" y1="255.33" x2="664.97" y2="256.67" stroke="rgb(0,241,255)" stroke-width="2.80" stroke-linecap="round"/>
<line x1="664.97" y1="256.67" x2="664.90" y2="258.00" stroke="rgb(0,244,255)" stroke-width="2.80" stroke-linecap="round"/>
<line x1="664.90" y1="258.00" x2="664.78" y2="259.20" stroke="rgb(0,247,255)" stroke-width="2.80" stroke-linecap="round"/>
<line x1="664.78" y1="259.20" x2="664.66" y2="260.40" stroke="rgb(0,249,255)" stroke-width="2.80" stroke-linecap="round"/>
<line x1="664.66" y1="260.40" x2="664.54" y2="261.60" stroke="rgb(0,252,255)" stroke-width="2.80" stroke-linecap="round"/>
<line x1="664.54" y1="261.60" x2="664.42" y2="262.80" stroke="rgb(4,255,237)" stroke-width="2.80" stroke-linecap="round"/>
<line x1="664.42" y1="262.80" x2="664.30" y2="264.00" stroke="rgb(27,255,136)" stroke-width="2.80" stroke-linecap="round"/>
<line x1="664.30" y1="264.00" x2="663.87" y2="265.50" stroke="rgb(55,255,21)" stroke-width="2.80" stroke-linecap="round"/>
<line x1="663.87" y1="265.50" x2="663.43" y2="267.00" stroke="rgb(63,254,0)" stroke-width="2.80" stroke-linecap="round"/>
<line x1="663.43" y1="267.00" x2="663.00" y2="268.50" stroke="rgb(67,252,0)" stroke-width="2.80" stroke-linecap="round"/>
<line x1="663.00" y1="268.50" x2="662.00" y2="269.33" stroke="rgb(70,251,0)" stroke-width="2.80" stroke-linecap="round"/>
<line x1="662.00" y1="269.33" x2="661.00" y2="270.17" stroke="rgb(72,251,0)" stroke-width="3.10" stroke-linecap="round"/>
<line x1="661.00" y1="270.17" x2="660.00" y2="271.00" stroke="rgb(74,250,0)" stroke-width="3.10" stroke-linecap="round"/>
<line x1="660.00" y1="271.00" x2="658.75" y2="271.62" stroke="rgb(76,250,0)" stroke-width="3.10" stroke-linecap="round"/>
<line x1="658.75" y1="271.62" x2="657.50" y2="272.25" stroke="rgb(78,249,0)" stroke-width="3.10" stroke-linecap="round"/>
<line x1="657.50" y1="272.25" x2="656.25" y2="272.88" stroke="rgb(79,249,0)" stroke-width="3.10" stroke-linecap="round"/>
<line x1="656.25" y1="272.88" x2="655.00" y2="273.50" stroke="rgb(81,248,0)" stroke-width="3.10" stroke-linecap="round"/>
<line x1="655.00" y1="273.50" x2="653.80" y2="274.24" stroke="rgb(83,247,0)" stroke-width="3.10" stroke-linecap="round"/>
<line x1="653.80" y1="274.24" x2="652.60" y2="274.98" stroke="rgb(85,247,0)" stroke-width="3.10" stroke-linecap="round"/>
<line x1="652.60" y1="274.98" x2="651.40" y2="275.72" stroke="rgb(87,246,0)" stroke-width="3.10" stroke-linecap="round"/>
<line x1="651.40" y1="275.72" x2="650.20" y2="276.46" stroke="rgb(89,246,0)" stroke-width="3.10" stroke-linecap="round"/>
<line x1="650.20" y1="276.46" x2="649.00" y2="277.20" stroke="rgb(91,245,0)" stroke-width="3.10" stroke-linecap="round"/>
<line x1="649.00" y1="277.20" x2="647.88" y2="277.72" stroke="rgb(92,245,0)" stroke-width="3.10" stroke-linecap="round"/>
<line x1="647.88" y1="277.72" x2="646.76" y2="278.24" stroke="rgb(94,244,0)" stroke-width="3.10" stroke-linecap="round"/>
<line x1="646.76" y1="278.24" x2="645.64" y2="278.76" stroke="rgb(95,244,0)" stroke-width="3.10" stroke-linecap="round"/>
<line x1="645.64" y1="278.76" x2="644.52" y2="279.28" stroke="rgb(96,243,0)" stroke-width="3.10" stroke-linecap="round"/>
<line x1="644.52" y1="279.28" x2="643.40" y2="279.80" stroke="rgb(98,243,0)" stroke-width="3.10" stroke-linecap="round"/>
<line x1="643.40" y1="279.80" x2="642.20" y2="280.06" stroke="rgb(99,243,0)" stroke-width="3.10" stroke-linecap="round"/>
<line x1="642.20" y1="280.06" x2="641.00" y2="280.31" stroke="rgb(99,243,0)" stroke-width="3.10" stroke-linecap="round"/>
<line x1="641.00" y1="280.31" x2="639.80" y2="280.57" stroke="rgb(100,242,0)" stroke-width="3.10" stroke-linecap="round"/>
<line x1="639.80" y1="280.57" x2="638.60" y2="280.83" stroke="rgb(101,242,0)" stroke-width="3.10" stroke-linecap="round"/>
<line x1="638.60" y1="280.83" x2="637.40" y2="281.09" stroke="rgb(101,242,0)" stroke-width="3.10" stroke-linecap="round"/>
<line x1="637.40" y1="281.09" x2="636.20" y2="281.34" stroke="rgb(102,242,0)" stroke-width="3.10" stroke-linecap="round"/>
<line x1="636.20" y1="281.34" x2="635.00" y2="281.60" stroke="rgb(103,241,0)" stroke-width="3.10" stroke-linecap="round"/>
<line x1="635.00" y1="281.60" x2="633.67" y2="281.77" stroke="rgb(103,241,0)" stroke-width="3.10" stroke-linecap="round"/>
<line x1="633.67" y1="281.77" x2="632.33" y2="281.93" stroke="rgb(104,241,0)" stroke-width="3.10" stroke-linecap="round"/>
<line x1="632.33" y1="281.93" x2="631.00" y2="282.10" stroke="rgb(104,241,0)" stroke-width="3.10" stroke-linecap="round"/>
<line x1="631.00" y1="282.10" x2="629.67" y2="282.27" stroke="rgb(105,241,0)" stroke-width="3.10" stroke-linecap="round"/>
<line x1="629.67" y1="282.27" x2="628.33" y2="282.43" stroke="rgb(105,241,0)" stroke-width="3.10" stroke-linecap="round"/>
<line x1="628.33" y1="282.43" x2="627.00" y2="282.60" stroke="rgb(106,241,0)" stroke-width="3.10" stroke-linecap="round"/>
<line x1="627.00" y1="282.60" x2="625.60" y2="282.82" stroke="rgb(106,241,0)" stroke-width="3.10" stroke-linecap="round"/>
<line x1="625.60" y1="282.82" x2="624.20" y2="283.04" stroke="rgb(107,240,0)" stroke-width="3.10" stroke-linecap="round"/>
<line x1="624.20" y1="283.04" x2="622.80" y2="283.26" stroke="rgb(107,240,0)" stroke-width="3.10" stroke-linecap="round"/>
<line x1="622.80" y1="283.26" x2="621.40" y2="283.48" stroke="rgb(108,240,0)" stroke-width="3.10" stroke-linecap="round"/>
<line x1="621.40" y1="283.48" x2="620.00" y2="283.70" stroke="rgb(108,240,0)" stroke-width="3.10" stroke-linecap="round"/>
<line x1="620.00" y1="283.70" x2="618.62" y2="284.07" stroke="rgb(109,240,0)" stroke-width="3.10" stroke-linecap="round"/>
<line x1="618.62" y1="284.07" x2="617.25" y2="284.45" stroke="rgb(120,241,0)" stroke-width="3.10" stroke-linecap="round"/>
<line x1="617.25" y1="284.45" x2="615.88" y2="284.82" stroke="rgb(136,242,0)" stroke-width="3.10" stroke-linecap="round"/>
<line x1="615.88" y1="284.82" x2="614.50" y2="285.20" stroke="rgb(151,244,0)" stroke-width="3.10" stroke-linecap="round"/>
<line x1="614.50" y1="285.20" x2="613.40" y2="285.80" stroke="rgb(172,246,0)" stroke-width="3.10" stroke-linecap="round"/>
<line x1="613.40" y1="285.80" x2="612.30" y2="286.40" stroke="rgb(197,249,0)" stroke-width="3.10" stroke-linecap="round"/>
<line x1="612.30" y1="286.40" x2="611.20" y2="287.00" stroke="rgb(221,251,0)" stroke-width="3.10" stroke-linecap="round"/>
<line x1="611.20" y1="287.00" x2="609.97" y2="287.93" stroke="rgb(253,254,0)" stroke-width="3.10" stroke-linecap="round"/>
<line x1="609.97" y1="287.93" x2="608.73" y2="288.87" stroke="rgb(255,255,0)" stroke-width="3.10" stroke-linecap="round"/>
<line x1="608.73" y1="288.87" x2="607.50" y2="289.80" stroke="rgb(255,255,0)" stroke-width="3.10" stroke-linecap="round"/>
<line x1="607.50" y1="289.80" x2="606.40" y2="290.90" stroke="rgb(255,255,0)" stroke-width="3.10" stroke-linecap="round"/>
<line x1="606.40" y1="290.90" x2="605.30" y2="292.00" stroke="rgb(255,255,0)" stroke-width="3.10" stroke-linecap="round"/>
<line x1="605.30" y1="292.00" x2="604.20" y2="293.10" stroke="rgb(255,255,0)" stroke-width="3.10" stroke-linecap="round"/>
<line x1="604.20" y1="293.10" x2="603.40" y2="294.20" stroke="rgb(255,255,0)" stroke-width="3.10" stroke-linecap="round"/>
<line x1="603.40" y1="294.20" x2="602.60" y2="295.30" stroke="rgb(255,255,0)" stroke-width="3.10" stroke-linecap="round"/>
<line x1="602.60" y1="295.30" x2="601.80" y2="296.40" stroke="rgb(255,255,0)" stroke-width="3.10" stroke-linecap="round"/>
<line x1="601.80" y1="296.40" x2="601.00" y2="297.50" stroke="rgb(255,255,0)" stroke-width="3.10" stroke-linecap="round"/>
<line x1="601.00" y1="297.50" x2="600.03" y2="298.70" stroke="rgb(255,251,0)" stroke-width="3.10" stroke-linecap="round"/>
<line x1="600.03" y1="298.70" x2="599.07" y2="299.90" stroke="rgb(255,205,0)" stroke-width="3.10" stroke-linecap="round"/>
<line x1="599.07" y1="299.90" x2="598.10" y2="301.10" stroke="rgb(255,159,0)" stroke-width="3.10" stroke-linecap="round"/>
<line x1="598.10" y1="301.10" x2="597.18" y2="301.98" stroke="rgb(255,137,0)" stroke-width="3.10" stroke-linecap="round"/>
<line x1="597.18" y1="301.98" x2="596.26" y2="302.86" stroke="rgb(255,134,0)" stroke-width="3.10" stroke-linecap="round"/>
<line x1="596.26" y1="302.86" x2="595.34" y2="303.74" stroke="rgb(255,131,0)" stroke-width="3.10" stroke-linecap="round"/>
<line x1="595.34" y1="303.74" x2="594.42" y2="304.62" stroke="rgb(255,128,0)" stroke-width="3.10" stroke-linecap="round"/>
<line x1="594.42" y1="304.62" x2="593.50" y2="305.50" stroke="rgb(255,124,0)" stroke-width="3.10" stroke-linecap="round"/>
<line x1="593.50" y1="305.50" x2="592.40" y2="306.32" stroke="rgb(255,121,0)" stroke-width="3.10" stroke-linecap="round"/>
<line x1="592.40" y1="306.32" x2="591.30" y2="307.15" stroke="rgb(255,118,0)" stroke-width="3.10" stroke-linecap="round"/>
<line x1="591.30" y1="307.15" x2="590.20" y2="307.98" stroke="rgb(255,115,0)" stroke-width="3.10" stroke-linecap="round"/>
<line x1="590.20" y1="307.98" x2="589.10" y2="308.80" stroke="rgb(255,112,0)" stroke-width="3.10" stroke-linecap="round"/>
<line x1="589.10" y1="308.80" x2="587.98" y2="309.41" stroke="rgb(255,107,0)" stroke-width="3.10" stroke-linecap="round"/>
<line x1="587.98" y1="309.41" x2="586.85" y2="310.02" stroke="rgb(255,90,0)" stroke-width="3.10" stroke-linecap="round"/>
<line x1="586.85" y1="310.02" x2="585.73" y2="310.64" stroke="rgb(255,73,0)" stroke-width="3.10" stroke-linecap="round"/>
<line x1="585.73" y1="310.64" x2="584.60" y2="311.25" stroke="rgb(255,56,0)" stroke-width="3.10" stroke-linecap="round"/>
<line x1="584.60" y1="311.25" x2="583.48" y2="311.86" stroke="rgb(255,39,0)" stroke-width="3.10" stroke-linecap="round"/>
<line x1="583.48" y1="311.86" x2="582.35" y2="312.48" stroke="rgb(255,22,0)" stroke-width="3.10" stroke-linecap="round"/>
<line x1="582.35" y1="312.48" x2="581.23" y2="313.09" stroke="rgb(255,6,0)" stroke-width="3.10" stroke-linecap="round"/>
<line x1="581.23" y1="313.09" x2="580.10" y2="313.70" stroke="rgb(255,0,0)" stroke-width="3.10" stroke-linecap="round"/>
<line x1="580.10" y1="313.70" x2="578.98" y2="314.30" stroke="rgb(255,0,0)" stroke-width="3.10" stroke-linecap="round"/>
<line x1="578.98" y1="314.30" x2="577.85" y2="314.90" stroke="rgb(255,0,0)" stroke-width="3.10" stroke-linecap="round"/>
<line x1="577.85" y1="314.90" x2="576.73" y2="315.50" stroke="rgb(255,0,0)" stroke-width="3.10" stroke-linecap="round"/>
<line x1="576.73" y1="315.50" x2="575.60" y2="316.10" stroke="rgb(255,0,0)" stroke-width="3.10" stroke-linecap="round"/>
<line x1="575.60" y1="316.10" x2="574.48" y2="316.70" stroke="rgb(255,0,0)" stroke-width="3.10" stroke-linecap="round"/>
<line x1="574.48" y1="316.70" x2="573.35" y2="317.30" stroke="rgb(255,0,0)" stroke-width="4.20" stroke-linecap="round"/>
<line x1="573.35" y1="317.30" x2="572.23" y2="317.90" stroke="rgb(255,0,0)" stroke-width="4.20" stroke-linecap="round"/>
<line x1="572.23" y1="317.90" x2="571.10" y2="318.50" stroke="rgb(255,0,0)" stroke-width="4.20" stroke-linecap="round"/>
<line x1="571.10" y1="318.50" x2="569.98" y2="318.99" stroke="rgb(255,0,0)" stroke-width="4.20" stroke-linecap="round"/>
<line x1="569.98" y1="318.99" x2="568.86" y2="319.48" stroke="rgb(255,0,0)" stroke-width="4.20" stroke-linecap="round"/>
<line x1="568.86" y1="319.48" x2="567.73" y2="319.97" stroke="rgb(255,0,0)" stroke-width="4.20" stroke-linecap="round"/>
<line x1="567.73" y1="319.97" x2="566.61" y2="320.46" stroke="rgb(255,0,0)" stroke-width="4.20" stroke-linecap="round"/>
<line x1="566.61" y1="320.46" x2="565.49" y2="320.94" stroke="rgb(255,0,0)" stroke-width="4.20" stroke-linecap="round"/>
<line x1="565.49" y1="320.94" x2="564.37" y2="321.43" stroke="rgb(255,0,0)" stroke-width="4.20" stroke-linecap="round"/>
<line x1="564.37" y1="321.43" x2="563.24" y2="321.92" stroke="rgb(255,0,0)" stroke-width="4.20" stroke-linecap="round"/>
<line x1="563.24" y1="321.92" x2="562.12" y2="322.41" stroke="rgb(255,0,0)" stroke-width="4.20" stroke-linecap="round"/>
<line x1="562.12" y1="322.41" x2="561.00" y2="322.90" stroke="rgb(255,0,0)" stroke-width="4.20" stroke-linecap="round"/>
<line x1="561.00" y1="322.90" x2="559.75" y2="323.14" stroke="rgb(255,0,0)" stroke-width="4.20" stroke-linecap="round"/>
<line x1="559.75" y1="323.14" x2="558.50" y2="323.38" stroke="rgb(255,0,0)" stroke-width="4.20" stroke-linecap="round"/>
<line x1="558.50" y1="323.38" x2="557.25" y2="323.61" stroke="rgb(255,0,0)" stroke-width="4.20" stroke-linecap="round"/>
<line x1="557.25" y1="323.61" x2="556.00" y2="323.85" stroke="rgb(255,0,0)" stroke-width="4.20" stroke-linecap="round"/>
<line x1="556.00" y1="323.85" x2="554.75" y2="324.09" stroke="rgb(255,0,0)" stroke-width="4.20" stroke-linecap="round"/>
<line x1="554.75" y1="324.09" x2="553.50" y2="324.32" stroke="rgb(255,0,0)" stroke-width="4.20" stroke-linecap="round"/>
<line x1="553.50" y1="324.32" x2="552.25" y2="324.56" stroke="rgb(255,0,0)" stroke-width="4.20" stroke-linecap="round"/>
<line x1="552.25" y1="324.56" x2="551.00" y2="324.80" stroke="rgb(255,0,0)" stroke-width="4.20" stroke-linecap="round"/>
<line x1="551.00" y1="324.80" x2="549.75" y2="324.69" stroke="rgb(255,0,0)" stroke-width="4.20" stroke-linecap="round"/>
<line x1="549.75" y1="324.69" x2="548.50" y2="324.57" stroke="rgb(255,0,0)" stroke-width="4.20" stroke-linecap="round"/>
<line x1="548.50" y1="324.57" x2="547.25" y2="324.46" stroke="rgb(255,0,0)" stroke-width="4.20" stroke-linecap="round"/>
<line x1="547.25" y1="324.46" x2="546.00" y2="324.35" stroke="rgb(255,0,0)" stroke-width="4.20" stroke-linecap="round"/>
<line x1="546.00" y1="324.35" x2="544.75" y2="324.24" stroke="rgb(255,0,0)" stroke-width="4.20" stroke-linecap="round"/>
<line x1="544.75" y1="324.24" x2="543.50" y2="324.12" stroke="rgb(255,0,0)" stroke-width="4.20" stroke-linecap="round"/>
<line x1="543.50" y1="324.12" x2="542.25" y2="324.01" stroke="rgb(255,0,0)" stroke-width="4.20" stroke-linecap="round"/>
<line x1="542.25" y1="324.01" x2="541.00" y2="323.90" stroke="rgb(255,0,0)" stroke-width="4.20" stroke-linecap="round"/>
<line x1="541.00" y1="323.90" x2="539.80" y2="323.91" stroke="rgb(255,0,0)" stroke-width="4.20" stroke-linecap="round"/>
<line x1="539.80" y1="323.91" x2="538.60" y2="323.92" stroke="rgb(255,0,0)" stroke-width="4.20" stroke-linecap="round"/>
<line x1="538.60" y1="323.92" x2="537.40" y2="323.94" stroke="rgb(255,0,0)" stroke-width="4.20" stroke-linecap="round"/>
<line x1="537.40" y1="323.94" x2="536.20" y2="323.95" stroke="rgb(255,0,0)" stroke-width="4.20" stroke-linecap="round"/>
<line x1="536.20" y1="323.95" x2="535.00" y2="323.96" stroke="rgb(255,0,0)" stroke-width="4.20" stroke-linecap="round"/>
<line x1="535.00" y1="323.96" x2="533.80" y2="323.98" stroke="rgb(255,0,0)" stroke-width="4.20" stroke-linecap="round"/>
<line x1="533.80" y1="323.98" x2="532.60" y2="323.99" stroke="rgb(255,0,0)" stroke-width="4.20" stroke-linecap="round"/>
<line x1="532.60" y1="323.99" x2="531.40" y2="324.00" stroke="rgb(255,0,0)" stroke-width="4.20" stroke-linecap="round"/>
<rect x="517.30" y="200.00" width="163.40" height="138.80" fill="none" stroke="#111" stroke-width="1.6"/>
<line x1="514.30" y1="200.00" x2="516.50" y2="200.00" stroke="#111" stroke-width="1.3" />
<line x1="514.30" y1="227.80" x2="516.50" y2="227.80" stroke="#111" stroke-width="1.3" />
<line x1="514.30" y1="255.50" x2="516.50" y2="255.50" stroke="#111" stroke-width="1.3" />
<line x1="514.30" y1="283.30" x2="516.50" y2="283.30" stroke="#111" stroke-width="1.3" />
<line x1="514.30" y1="311.00" x2="516.50" y2="311.00" stroke="#111" stroke-width="1.3" />
<line x1="514.30" y1="338.80" x2="516.50" y2="338.80" stroke="#111" stroke-width="1.3" />
<text transform="translate(510.30,202.30) scale(0.87,1)" font-size="8.16" text-anchor="end" fill="#111">6.0×10</text>
<text transform="translate(514.40,199.00) scale(0.87,1)" font-size="5.29" text-anchor="end" fill="#111">5</text>
<text transform="translate(510.30,230.10) scale(0.87,1)" font-size="8.16" text-anchor="end" fill="#111">4.0×10</text>
<text transform="translate(514.40,226.80) scale(0.87,1)" font-size="5.29" text-anchor="end" fill="#111">5</text>
<text transform="translate(510.30,257.80) scale(0.87,1)" font-size="8.16" text-anchor="end" fill="#111">2.0×10</text>
<text transform="translate(514.40,254.50) scale(0.87,1)" font-size="5.29" text-anchor="end" fill="#111">5</text>
<text transform="translate(513.60,285.60) scale(0.87,1)" x="0" y="0" font-size="7.93" text-anchor="end" fill="#111" stroke="#111" stroke-width="0.18">0.0</text>
<text transform="translate(510.30,313.30) scale(0.87,1)" font-size="8.16" text-anchor="end" fill="#111">-2.0×10</text>
<text transform="translate(514.40,310.00) scale(0.87,1)" font-size="5.29" text-anchor="end" fill="#111">5</text>
<text transform="translate(510.30,341.10) scale(0.87,1)" font-size="8.16" text-anchor="end" fill="#111">-4.0×10</text>
<text transform="translate(514.40,337.80) scale(0.87,1)" font-size="5.29" text-anchor="end" fill="#111">5</text>
<line x1="516.80" y1="339.60" x2="516.80" y2="341.80" stroke="#111" stroke-width="1.3" />
<line x1="546.60" y1="339.60" x2="546.60" y2="341.80" stroke="#111" stroke-width="1.3" />
<line x1="576.50" y1="339.60" x2="576.50" y2="341.80" stroke="#111" stroke-width="1.3" />
<line x1="606.40" y1="339.60" x2="606.40" y2="341.80" stroke="#111" stroke-width="1.3" />
<line x1="636.40" y1="339.60" x2="636.40" y2="341.80" stroke="#111" stroke-width="1.3" />
<line x1="666.30" y1="339.60" x2="666.30" y2="341.80" stroke="#111" stroke-width="1.3" />
<text transform="translate(516.80,348.70) scale(0.87,1)" x="0" y="0" font-size="7.93" text-anchor="middle" fill="#111" stroke="#111" stroke-width="0.18">-0.2</text>
<text transform="translate(546.60,348.70) scale(0.87,1)" x="0" y="0" font-size="7.93" text-anchor="middle" fill="#111" stroke="#111" stroke-width="0.18">0.0</text>
<text transform="translate(576.50,348.70) scale(0.87,1)" x="0" y="0" font-size="7.93" text-anchor="middle" fill="#111" stroke="#111" stroke-width="0.18">0.2</text>
<text transform="translate(606.40,348.70) scale(0.87,1)" x="0" y="0" font-size="7.93" text-anchor="middle" fill="#111" stroke="#111" stroke-width="0.18">0.4</text>
<text transform="translate(636.40,348.70) scale(0.87,1)" x="0" y="0" font-size="7.93" text-anchor="middle" fill="#111" stroke="#111" stroke-width="0.18">0.6</text>
<text transform="translate(666.30,348.70) scale(0.87,1)" x="0" y="0" font-size="7.93" text-anchor="middle" fill="#111" stroke="#111" stroke-width="0.18">0.8</text>
<text transform="translate(481.00,300.60) rotate(-90)" x="0" y="0" font-size="12.2" text-anchor="start" fill="#111" textLength="66.20" lengthAdjust="spacingAndGlyphs">Current, I (A)</text>
<text x="569.70" y="370.90" font-size="12.0" text-anchor="start" fill="#111" textLength="70.70" lengthAdjust="spacingAndGlyphs" >Potential, E (V)</text>
<line x1="590.2" y1="215.6" x2="610.5" y2="222.3" stroke="#222" stroke-width="0.6" marker-start="url(#arr)"/>
<text transform="translate(588.30,217.30) scale(0.87,1)" x="0" y="0" font-size="7.59" text-anchor="end" fill="#111" stroke="#111" stroke-width="0.18">4.4E-5</text>
<line x1="591.6" y1="229.2" x2="607.5" y2="229.2" stroke="#777" stroke-width="0.7" marker-start="url(#arr)"/>
<text transform="translate(588.30,230.70) scale(0.87,1)" x="0" y="0" font-size="7.59" text-anchor="end" fill="#111" stroke="#111" stroke-width="0.18">4E-5</text>
<rect x="473.4" y="351.6" width="13.3" height="14.4" fill="#ffff00"/>
<text x="473.20" y="362.40" font-size="12.5" text-anchor="start" fill="#111" stroke="#111" stroke-width="0.35">(f)</text>
</g>
</svg></body></html>
